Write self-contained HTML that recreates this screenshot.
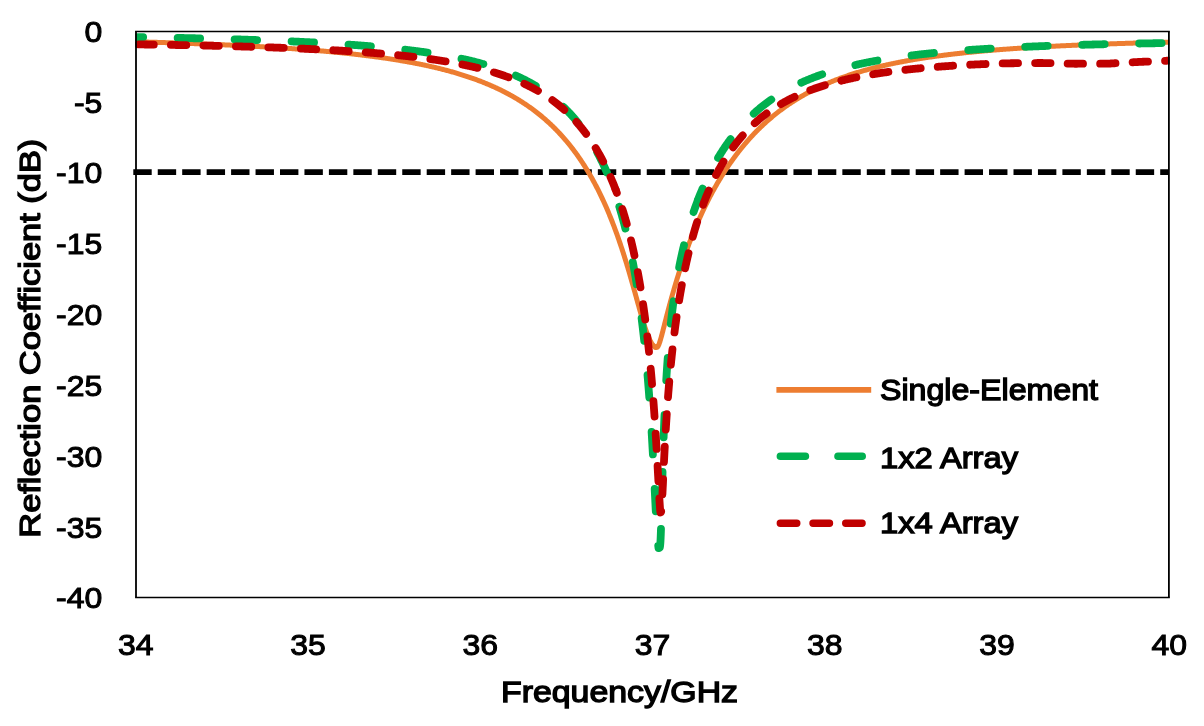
<!DOCTYPE html>
<html><head><meta charset="utf-8"><style>
html,body{margin:0;padding:0;background:#fff;}
body{width:1204px;height:726px;overflow:hidden;}
svg{display:block;will-change:transform;}
text{font-family:'Liberation Sans',sans-serif;font-weight:normal;stroke:#000;stroke-width:1.3px;fill:#000;}
.num text{stroke-width:1.0px;}
</style></head><body>
<svg width="1204" height="726" viewBox="0 0 1204 726">
<defs><clipPath id="pa"><rect x="135.3" y="20" width="1034.5" height="580"/></clipPath></defs>
<rect x="0" y="0" width="1204" height="726" fill="#fff"/>
<g font-size="28.8" class="num">
<text transform="translate(102.3,41.80) scale(1.11,1)" text-anchor="end">0</text>
<text transform="translate(102.3,112.63) scale(1.11,1)" text-anchor="end">-5</text>
<text transform="translate(102.3,183.46) scale(1.11,1)" text-anchor="end">-10</text>
<text transform="translate(102.3,254.29) scale(1.11,1)" text-anchor="end">-15</text>
<text transform="translate(102.3,325.12) scale(1.11,1)" text-anchor="end">-20</text>
<text transform="translate(102.3,395.95) scale(1.11,1)" text-anchor="end">-25</text>
<text transform="translate(102.3,466.78) scale(1.11,1)" text-anchor="end">-30</text>
<text transform="translate(102.3,537.61) scale(1.11,1)" text-anchor="end">-35</text>
<text transform="translate(102.3,608.44) scale(1.11,1)" text-anchor="end">-40</text>
<text transform="translate(135.70,654.90) scale(1.11,1)" text-anchor="middle">34</text>
<text transform="translate(307.95,654.90) scale(1.11,1)" text-anchor="middle">35</text>
<text transform="translate(480.20,654.90) scale(1.11,1)" text-anchor="middle">36</text>
<text transform="translate(652.45,654.90) scale(1.11,1)" text-anchor="middle">37</text>
<text transform="translate(824.70,654.90) scale(1.11,1)" text-anchor="middle">38</text>
<text transform="translate(996.95,654.90) scale(1.11,1)" text-anchor="middle">39</text>
<text transform="translate(1169.20,654.90) scale(1.11,1)" text-anchor="middle">40</text>
</g>
<text x="619.5" y="701.5" font-size="29" text-anchor="middle" textLength="237" lengthAdjust="spacingAndGlyphs">Frequency/GHz</text>
<text transform="translate(40.2,338.2) rotate(-90)" font-size="29" text-anchor="middle" textLength="399" lengthAdjust="spacingAndGlyphs">Reflection Coefficient (dB)</text>
<path d="M133.3,172.1 H1168.5" stroke="#000" stroke-width="5.6" stroke-dasharray="18.4 6.05" fill="none"/>
<g clip-path="url(#pa)" fill="none" stroke-linejoin="round">
<path d="M133.00,41.68 L133.80,41.70 L134.60,41.72 L135.40,41.75 L136.20,41.77 L137.00,41.79 L137.80,41.81 L138.60,41.83 L139.40,41.86 L140.20,41.88 L141.00,41.90 L141.80,41.92 L142.60,41.95 L143.40,41.97 L144.20,41.99 L145.00,42.01 L145.80,42.04 L146.60,42.06 L147.40,42.08 L148.20,42.11 L149.00,42.13 L149.80,42.15 L150.60,42.18 L151.40,42.20 L152.20,42.22 L153.00,42.25 L153.80,42.27 L154.60,42.29 L155.40,42.32 L156.20,42.34 L157.00,42.37 L157.80,42.39 L158.60,42.42 L159.40,42.44 L160.20,42.46 L161.00,42.49 L161.80,42.51 L162.60,42.54 L163.40,42.56 L164.20,42.59 L165.00,42.62 L165.80,42.64 L166.60,42.67 L167.40,42.69 L168.20,42.72 L169.00,42.74 L169.80,42.77 L170.60,42.80 L171.40,42.82 L172.20,42.85 L173.00,42.87 L173.80,42.90 L174.60,42.93 L175.40,42.96 L176.20,42.98 L177.00,43.01 L177.80,43.04 L178.60,43.06 L179.40,43.09 L180.20,43.12 L181.00,43.15 L181.80,43.17 L182.60,43.20 L183.40,43.23 L184.20,43.26 L185.00,43.29 L185.80,43.32 L186.60,43.34 L187.40,43.37 L188.20,43.40 L189.00,43.43 L189.80,43.46 L190.60,43.49 L191.40,43.52 L192.20,43.55 L193.00,43.58 L193.80,43.61 L194.60,43.64 L195.40,43.67 L196.20,43.70 L197.00,43.73 L197.80,43.76 L198.60,43.79 L199.40,43.82 L200.20,43.85 L201.00,43.88 L201.80,43.91 L202.60,43.94 L203.40,43.98 L204.20,44.01 L205.00,44.04 L205.80,44.07 L206.60,44.10 L207.40,44.13 L208.20,44.17 L209.00,44.20 L209.80,44.23 L210.60,44.27 L211.40,44.30 L212.20,44.33 L213.00,44.36 L213.80,44.40 L214.60,44.43 L215.40,44.47 L216.20,44.50 L217.00,44.53 L217.80,44.57 L218.60,44.60 L219.40,44.64 L220.20,44.67 L221.00,44.71 L221.80,44.74 L222.60,44.78 L223.40,44.81 L224.20,44.85 L225.00,44.88 L225.80,44.92 L226.60,44.96 L227.40,44.99 L228.20,45.03 L229.00,45.07 L229.80,45.10 L230.60,45.14 L231.40,45.18 L232.20,45.22 L233.00,45.25 L233.80,45.29 L234.60,45.33 L235.40,45.37 L236.20,45.41 L237.00,45.44 L237.80,45.48 L238.60,45.52 L239.40,45.56 L240.20,45.60 L241.00,45.64 L241.80,45.68 L242.60,45.72 L243.40,45.76 L244.20,45.80 L245.00,45.84 L245.80,45.88 L246.60,45.92 L247.40,45.96 L248.20,46.01 L249.00,46.05 L249.80,46.09 L250.60,46.13 L251.40,46.17 L252.20,46.22 L253.00,46.26 L253.80,46.30 L254.60,46.35 L255.40,46.39 L256.20,46.43 L257.00,46.48 L257.80,46.52 L258.60,46.56 L259.40,46.61 L260.20,46.65 L261.00,46.70 L261.80,46.74 L262.60,46.79 L263.40,46.84 L264.20,46.88 L265.00,46.93 L265.80,46.98 L266.60,47.02 L267.40,47.07 L268.20,47.12 L269.00,47.16 L269.80,47.21 L270.60,47.26 L271.40,47.31 L272.20,47.36 L273.00,47.41 L273.80,47.45 L274.60,47.50 L275.40,47.55 L276.20,47.60 L277.00,47.65 L277.80,47.70 L278.60,47.76 L279.40,47.81 L280.20,47.86 L281.00,47.91 L281.80,47.96 L282.60,48.01 L283.40,48.07 L284.20,48.12 L285.00,48.17 L285.80,48.22 L286.60,48.28 L287.40,48.33 L288.20,48.39 L289.00,48.44 L289.80,48.50 L290.60,48.55 L291.40,48.61 L292.20,48.66 L293.00,48.72 L293.80,48.78 L294.60,48.83 L295.40,48.89 L296.20,48.95 L297.00,49.00 L297.80,49.06 L298.60,49.12 L299.40,49.18 L300.20,49.24 L301.00,49.30 L301.80,49.36 L302.60,49.42 L303.40,49.48 L304.20,49.54 L305.00,49.60 L305.80,49.66 L306.60,49.72 L307.40,49.79 L308.20,49.85 L309.00,49.91 L309.80,49.98 L310.60,50.04 L311.40,50.10 L312.20,50.17 L313.00,50.23 L313.80,50.30 L314.60,50.36 L315.40,50.43 L316.20,50.50 L317.00,50.56 L317.80,50.63 L318.60,50.70 L319.40,50.77 L320.20,50.84 L321.00,50.91 L321.80,50.97 L322.60,51.04 L323.40,51.11 L324.20,51.19 L325.00,51.26 L325.80,51.33 L326.60,51.40 L327.40,51.47 L328.20,51.55 L329.00,51.62 L329.80,51.69 L330.60,51.77 L331.40,51.84 L332.20,51.92 L333.00,51.99 L333.80,52.07 L334.60,52.15 L335.40,52.22 L336.20,52.30 L337.00,52.38 L337.80,52.46 L338.60,52.54 L339.40,52.62 L340.20,52.70 L341.00,52.78 L341.80,52.86 L342.60,52.94 L343.40,53.02 L344.20,53.10 L345.00,53.19 L345.80,53.27 L346.60,53.35 L347.40,53.44 L348.20,53.52 L349.00,53.61 L349.80,53.70 L350.60,53.78 L351.40,53.87 L352.20,53.96 L353.00,54.05 L353.80,54.14 L354.60,54.23 L355.40,54.32 L356.20,54.41 L357.00,54.50 L357.80,54.59 L358.60,54.69 L359.40,54.78 L360.20,54.88 L361.00,54.97 L361.80,55.07 L362.60,55.16 L363.40,55.26 L364.20,55.36 L365.00,55.45 L365.80,55.55 L366.60,55.65 L367.40,55.75 L368.20,55.85 L369.00,55.96 L369.80,56.06 L370.60,56.16 L371.40,56.26 L372.20,56.37 L373.00,56.47 L373.80,56.58 L374.60,56.69 L375.40,56.79 L376.20,56.90 L377.00,57.01 L377.80,57.12 L378.60,57.23 L379.40,57.34 L380.20,57.45 L381.00,57.57 L381.80,57.68 L382.60,57.79 L383.40,57.91 L384.20,58.03 L385.00,58.14 L385.80,58.26 L386.60,58.38 L387.40,58.50 L388.20,58.62 L389.00,58.74 L389.80,58.86 L390.60,58.98 L391.40,59.11 L392.20,59.23 L393.00,59.36 L393.80,59.48 L394.60,59.61 L395.40,59.74 L396.20,59.87 L397.00,60.00 L397.80,60.13 L398.60,60.26 L399.40,60.39 L400.20,60.53 L401.00,60.66 L401.80,60.80 L402.60,60.94 L403.40,61.07 L404.20,61.21 L405.00,61.35 L405.80,61.50 L406.60,61.64 L407.40,61.78 L408.20,61.93 L409.00,62.07 L409.80,62.22 L410.60,62.37 L411.40,62.51 L412.20,62.66 L413.00,62.82 L413.80,62.97 L414.60,63.12 L415.40,63.28 L416.20,63.43 L417.00,63.59 L417.80,63.75 L418.60,63.91 L419.40,64.07 L420.20,64.23 L421.00,64.39 L421.80,64.56 L422.60,64.73 L423.40,64.89 L424.20,65.06 L425.00,65.23 L425.80,65.40 L426.60,65.58 L427.40,65.75 L428.20,65.92 L429.00,66.10 L429.80,66.28 L430.60,66.46 L431.40,66.64 L432.18,66.82 L432.96,67.00 L433.74,67.18 L434.52,67.36 L435.30,67.55 L436.08,67.73 L436.86,67.92 L437.64,68.11 L438.42,68.30 L439.20,68.49 L439.98,68.68 L440.76,68.87 L441.54,69.07 L442.32,69.27 L443.10,69.47 L443.88,69.67 L444.66,69.87 L445.44,70.07 L446.22,70.28 L447.00,70.49 L447.78,70.70 L448.56,70.91 L449.34,71.12 L450.12,71.33 L450.90,71.55 L451.68,71.77 L452.46,71.99 L453.24,72.21 L454.02,72.43 L454.80,72.66 L455.58,72.89 L456.36,73.11 L457.14,73.35 L457.92,73.58 L458.70,73.81 L459.48,74.05 L460.26,74.29 L461.04,74.53 L461.82,74.77 L462.60,75.02 L463.38,75.27 L464.16,75.52 L464.94,75.77 L465.72,76.02 L466.50,76.28 L467.26,76.53 L468.02,76.78 L468.78,77.04 L469.54,77.30 L470.30,77.56 L471.06,77.82 L471.82,78.08 L472.58,78.35 L473.34,78.62 L474.10,78.89 L474.86,79.16 L475.62,79.44 L476.38,79.72 L477.14,80.00 L477.90,80.28 L478.66,80.57 L479.42,80.86 L480.18,81.15 L480.94,81.44 L481.70,81.74 L482.46,82.04 L483.22,82.34 L483.98,82.64 L484.74,82.95 L485.50,83.26 L486.26,83.57 L487.00,83.88 L487.74,84.19 L488.48,84.50 L489.22,84.81 L489.96,85.13 L490.70,85.45 L491.44,85.77 L492.18,86.10 L492.92,86.43 L493.66,86.76 L494.40,87.10 L495.14,87.43 L495.88,87.77 L496.62,88.12 L497.36,88.46 L498.10,88.81 L498.84,89.17 L499.58,89.52 L500.30,89.87 L501.02,90.23 L501.74,90.58 L502.46,90.94 L503.18,91.30 L503.90,91.67 L504.62,92.04 L505.34,92.41 L506.06,92.79 L506.78,93.16 L507.50,93.55 L508.22,93.93 L508.94,94.32 L509.66,94.71 L510.38,95.11 L511.08,95.50 L511.78,95.89 L512.48,96.28 L513.18,96.68 L513.88,97.09 L514.58,97.49 L515.28,97.90 L515.98,98.31 L516.68,98.73 L517.38,99.15 L518.08,99.58 L518.78,100.00 L519.48,100.44 L520.16,100.86 L520.84,101.29 L521.52,101.72 L522.20,102.15 L522.88,102.59 L523.56,103.03 L524.24,103.48 L524.92,103.93 L525.60,104.38 L526.28,104.84 L526.96,105.31 L527.62,105.76 L528.28,106.22 L528.94,106.68 L529.60,107.14 L530.26,107.61 L530.92,108.08 L531.58,108.56 L532.24,109.04 L532.90,109.53 L533.56,110.02 L534.22,110.51 L534.86,111.00 L535.50,111.48 L536.14,111.98 L536.78,112.47 L537.42,112.97 L538.06,113.48 L538.70,113.99 L539.34,114.50 L539.98,115.02 L540.60,115.53 L541.22,116.04 L541.84,116.55 L542.46,117.07 L543.08,117.60 L543.70,118.12 L544.32,118.66 L544.94,119.19 L545.56,119.74 L546.16,120.27 L546.76,120.80 L547.36,121.34 L547.96,121.88 L548.56,122.43 L549.16,122.98 L549.76,123.54 L550.36,124.10 L550.96,124.67 L551.54,125.22 L552.12,125.77 L552.70,126.34 L553.28,126.90 L553.86,127.47 L554.44,128.05 L555.02,128.63 L555.60,129.21 L556.18,129.80 L556.74,130.38 L557.30,130.96 L557.86,131.54 L558.42,132.13 L558.98,132.72 L559.54,133.32 L560.10,133.92 L560.66,134.53 L561.20,135.12 L561.74,135.72 L562.28,136.32 L562.82,136.93 L563.36,137.54 L563.90,138.15 L564.44,138.77 L564.98,139.40 L565.52,140.03 L566.04,140.64 L566.56,141.26 L567.08,141.88 L567.60,142.50 L568.12,143.14 L568.64,143.77 L569.16,144.41 L569.68,145.06 L570.18,145.69 L570.68,146.32 L571.18,146.95 L571.68,147.59 L572.18,148.24 L572.68,148.89 L573.18,149.55 L573.68,150.21 L574.18,150.88 L574.66,151.52 L575.14,152.17 L575.62,152.82 L576.10,153.48 L576.58,154.15 L577.06,154.82 L577.54,155.49 L578.02,156.17 L578.48,156.82 L578.94,157.49 L579.40,158.15 L579.86,158.82 L580.32,159.50 L580.78,160.18 L581.24,160.86 L581.70,161.55 L582.16,162.25 L582.60,162.92 L583.04,163.59 L583.48,164.27 L583.92,164.96 L584.36,165.65 L584.80,166.34 L585.24,167.04 L585.68,167.75 L586.12,168.46 L586.54,169.14 L586.96,169.83 L587.38,170.52 L587.80,171.21 L588.22,171.92 L588.64,172.62 L589.06,173.33 L589.48,174.05 L589.90,174.77 L590.32,175.50 L590.72,176.19 L591.12,176.90 L591.52,177.60 L591.92,178.31 L592.32,179.03 L592.72,179.75 L593.12,180.47 L593.52,181.20 L593.92,181.94 L594.32,182.68 L594.70,183.39 L595.08,184.10 L595.46,184.82 L595.84,185.54 L596.22,186.27 L596.60,187.00 L596.98,187.74 L597.36,188.48 L597.74,189.22 L598.12,189.98 L598.48,190.69 L598.84,191.41 L599.20,192.14 L599.56,192.87 L599.92,193.60 L600.28,194.34 L600.64,195.09 L601.00,195.84 L601.36,196.59 L601.72,197.35 L602.08,198.11 L602.42,198.84 L602.76,199.57 L603.10,200.30 L603.44,201.04 L603.78,201.78 L604.12,202.53 L604.46,203.28 L604.80,204.04 L605.14,204.80 L605.48,205.57 L605.82,206.34 L606.16,207.11 L606.48,207.85 L606.80,208.59 L607.12,209.33 L607.44,210.08 L607.76,210.83 L608.08,211.58 L608.40,212.34 L608.72,213.11 L609.04,213.88 L609.36,214.65 L609.68,215.43 L610.00,216.21 L610.32,217.00 L610.62,217.74 L610.92,218.49 L611.22,219.24 L611.52,219.99 L611.82,220.75 L612.12,221.52 L612.42,222.28 L612.72,223.06 L613.02,223.83 L613.32,224.61 L613.62,225.40 L613.92,226.18 L614.22,226.98 L614.52,227.77 L614.82,228.58 L615.10,229.33 L615.38,230.08 L615.66,230.84 L615.94,231.61 L616.22,232.38 L616.50,233.15 L616.78,233.92 L617.06,234.70 L617.34,235.49 L617.62,236.27 L617.90,237.06 L618.18,237.86 L618.46,238.66 L618.74,239.46 L619.02,240.27 L619.30,241.08 L619.56,241.84 L619.82,242.60 L620.08,243.36 L620.34,244.13 L620.60,244.90 L620.86,245.68 L621.12,246.46 L621.38,247.24 L621.64,248.02 L621.90,248.81 L622.16,249.61 L622.42,250.40 L622.68,251.20 L622.94,252.01 L623.20,252.81 L623.46,253.62 L623.72,254.44 L623.98,255.25 L624.24,256.08 L624.50,256.90 L624.74,257.66 L624.98,258.43 L625.22,259.20 L625.46,259.97 L625.70,260.75 L625.94,261.53 L626.18,262.31 L626.42,263.10 L626.66,263.88 L626.90,264.67 L627.14,265.47 L627.38,266.26 L627.62,267.06 L627.86,267.86 L628.10,268.67 L628.34,269.47 L628.58,270.28 L628.82,271.10 L629.06,271.91 L629.30,272.73 L629.54,273.55 L629.78,274.37 L630.02,275.20 L630.26,276.03 L630.50,276.86 L630.74,277.69 L630.98,278.52 L631.22,279.36 L631.46,280.20 L631.68,280.97 L631.90,281.74 L632.12,282.52 L632.34,283.29 L632.56,284.07 L632.78,284.85 L633.00,285.63 L633.22,286.41 L633.44,287.19 L633.66,287.98 L633.88,288.76 L634.10,289.55 L634.32,290.34 L634.54,291.13 L634.76,291.91 L634.98,292.70 L635.20,293.50 L635.42,294.29 L635.64,295.08 L635.86,295.87 L636.08,296.66 L636.30,297.46 L636.52,298.25 L636.74,299.04 L636.96,299.84 L637.18,300.63 L637.40,301.42 L637.62,302.21 L637.84,303.00 L638.06,303.79 L638.28,304.58 L638.50,305.37 L638.72,306.16 L638.94,306.94 L639.16,307.73 L639.38,308.51 L639.60,309.29 L639.82,310.07 L640.04,310.85 L640.26,311.62 L640.48,312.39 L640.72,313.23 L640.96,314.07 L641.20,314.90 L641.44,315.73 L641.68,316.55 L641.92,317.37 L642.16,318.18 L642.40,318.99 L642.64,319.80 L642.88,320.60 L643.12,321.39 L643.36,322.17 L643.60,322.95 L643.84,323.73 L644.08,324.49 L644.34,325.32 L644.60,326.13 L644.86,326.93 L645.12,327.72 L645.38,328.51 L645.64,329.28 L645.90,330.04 L646.18,330.85 L646.46,331.64 L646.74,332.42 L647.02,333.18 L647.32,333.98 L647.62,334.76 L647.92,335.53 L648.22,336.27 L648.54,337.04 L648.86,337.79 L649.20,338.56 L649.54,339.30 L649.90,340.05 L650.26,340.76 L650.64,341.48 L651.04,342.20 L651.46,342.91 L651.90,343.59 L652.36,344.25 L652.86,344.90 L653.40,345.51 L653.98,346.07 L654.64,346.54 L655.30,347.50 L656.10,347.50 L656.90,347.37 L657.56,346.89 L658.04,346.24 L658.44,345.50 L658.78,344.75 L659.08,344.00 L659.36,343.24 L659.64,342.43 L659.90,341.63 L660.14,340.87 L660.38,340.07 L660.62,339.26 L660.86,338.42 L661.08,337.64 L661.30,336.84 L661.52,336.03 L661.74,335.22 L661.96,334.39 L662.18,333.56 L662.40,332.71 L662.62,331.87 L662.84,331.02 L663.04,330.24 L663.24,329.46 L663.44,328.68 L663.64,327.90 L663.84,327.12 L664.04,326.33 L664.24,325.55 L664.44,324.76 L664.64,323.98 L664.84,323.19 L665.04,322.41 L665.24,321.63 L665.44,320.84 L665.64,320.06 L665.84,319.28 L666.04,318.50 L666.24,317.72 L666.44,316.95 L666.66,316.10 L666.88,315.25 L667.10,314.40 L667.32,313.55 L667.54,312.71 L667.76,311.87 L667.98,311.03 L668.20,310.20 L668.42,309.37 L668.64,308.54 L668.86,307.71 L669.08,306.89 L669.30,306.07 L669.52,305.25 L669.74,304.43 L669.96,303.62 L670.18,302.81 L670.40,302.01 L670.62,301.20 L670.84,300.40 L671.06,299.61 L671.28,298.81 L671.50,298.02 L671.72,297.23 L671.94,296.45 L672.16,295.66 L672.38,294.89 L672.60,294.11 L672.82,293.34 L673.04,292.57 L673.28,291.73 L673.52,290.90 L673.76,290.07 L674.00,289.24 L674.24,288.42 L674.48,287.60 L674.72,286.78 L674.96,285.97 L675.20,285.16 L675.44,284.35 L675.68,283.55 L675.92,282.75 L676.16,281.96 L676.40,281.17 L676.64,280.38 L676.88,279.59 L677.12,278.81 L677.36,278.03 L677.60,277.26 L677.84,276.48 L678.08,275.72 L678.32,274.95 L678.58,274.13 L678.84,273.30 L679.10,272.49 L679.36,271.67 L679.62,270.86 L679.88,270.05 L680.14,269.25 L680.40,268.45 L680.66,267.66 L680.92,266.86 L681.18,266.07 L681.44,265.29 L681.70,264.51 L681.96,263.73 L682.22,262.95 L682.48,262.18 L682.74,261.42 L683.00,260.65 L683.26,259.89 L683.52,259.13 L683.80,258.32 L684.08,257.51 L684.36,256.71 L684.64,255.91 L684.92,255.11 L685.20,254.32 L685.48,253.53 L685.76,252.75 L686.04,251.97 L686.32,251.19 L686.60,250.41 L686.88,249.64 L687.16,248.88 L687.44,248.11 L687.72,247.35 L688.00,246.60 L688.28,245.84 L688.58,245.04 L688.88,244.24 L689.18,243.45 L689.48,242.66 L689.78,241.87 L690.08,241.09 L690.38,240.31 L690.68,239.54 L690.98,238.77 L691.28,238.00 L691.58,237.23 L691.88,236.47 L692.18,235.72 L692.48,234.97 L692.78,234.22 L693.08,233.47 L693.40,232.68 L693.72,231.89 L694.04,231.11 L694.36,230.33 L694.68,229.56 L695.00,228.79 L695.32,228.02 L695.64,227.26 L695.96,226.50 L696.28,225.74 L696.60,224.99 L696.92,224.24 L697.24,223.50 L697.56,222.76 L697.88,222.02 L698.22,221.25 L698.56,220.47 L698.90,219.70 L699.24,218.94 L699.58,218.17 L699.92,217.42 L700.26,216.66 L700.60,215.91 L700.94,215.17 L701.28,214.42 L701.62,213.68 L701.96,212.95 L702.30,212.22 L702.64,211.49 L703.00,210.73 L703.36,209.97 L703.72,209.21 L704.08,208.46 L704.44,207.71 L704.80,206.96 L705.16,206.22 L705.52,205.48 L705.88,204.75 L706.24,204.02 L706.60,203.30 L706.96,202.58 L707.32,201.86 L707.70,201.11 L708.08,200.36 L708.46,199.61 L708.84,198.87 L709.22,198.14 L709.60,197.40 L709.98,196.68 L710.36,195.95 L710.74,195.23 L711.12,194.52 L711.50,193.81 L711.88,193.10 L712.26,192.39 L712.66,191.66 L713.06,190.92 L713.46,190.20 L713.86,189.47 L714.26,188.75 L714.66,188.04 L715.06,187.32 L715.46,186.62 L715.86,185.91 L716.26,185.21 L716.66,184.52 L717.08,183.79 L717.50,183.07 L717.92,182.35 L718.34,181.64 L718.76,180.93 L719.18,180.22 L719.60,179.52 L720.02,178.83 L720.44,178.14 L720.86,177.45 L721.28,176.76 L721.72,176.05 L722.16,175.34 L722.60,174.64 L723.04,173.94 L723.48,173.24 L723.92,172.55 L724.36,171.87 L724.80,171.18 L725.24,170.50 L725.68,169.83 L726.12,169.16 L726.58,168.46 L727.04,167.77 L727.50,167.08 L727.96,166.40 L728.42,165.72 L728.88,165.05 L729.34,164.38 L729.80,163.71 L730.26,163.05 L730.72,162.39 L731.20,161.71 L731.68,161.03 L732.16,160.35 L732.64,159.69 L733.12,159.02 L733.60,158.36 L734.08,157.70 L734.56,157.05 L735.04,156.40 L735.52,155.76 L736.02,155.09 L736.52,154.43 L737.02,153.78 L737.52,153.12 L738.02,152.47 L738.52,151.83 L739.02,151.19 L739.52,150.55 L740.02,149.92 L740.52,149.29 L741.04,148.65 L741.56,148.00 L742.08,147.36 L742.60,146.73 L743.12,146.10 L743.64,145.47 L744.16,144.85 L744.68,144.23 L745.20,143.62 L745.72,143.01 L746.26,142.38 L746.80,141.76 L747.34,141.14 L747.88,140.52 L748.42,139.91 L748.96,139.30 L749.50,138.70 L750.04,138.10 L750.58,137.51 L751.14,136.90 L751.70,136.29 L752.26,135.69 L752.82,135.09 L753.38,134.49 L753.94,133.90 L754.50,133.32 L755.06,132.74 L755.62,132.16 L756.18,131.59 L756.76,131.00 L757.34,130.41 L757.92,129.83 L758.50,129.25 L759.08,128.68 L759.66,128.11 L760.24,127.55 L760.82,126.99 L761.40,126.44 L761.98,125.88 L762.58,125.32 L763.18,124.76 L763.78,124.20 L764.38,123.65 L764.98,123.10 L765.58,122.55 L766.18,122.01 L766.78,121.47 L767.38,120.94 L768.00,120.40 L768.62,119.85 L769.24,119.32 L769.86,118.78 L770.48,118.25 L771.10,117.73 L771.72,117.21 L772.34,116.69 L772.96,116.18 L773.58,115.67 L774.22,115.14 L774.86,114.63 L775.50,114.11 L776.14,113.60 L776.78,113.10 L777.42,112.60 L778.06,112.10 L778.70,111.61 L779.34,111.12 L779.98,110.63 L780.62,110.15 L781.28,109.66 L781.94,109.17 L782.60,108.69 L783.26,108.20 L783.92,107.73 L784.58,107.25 L785.24,106.79 L785.90,106.32 L786.56,105.86 L787.22,105.40 L787.88,104.95 L788.56,104.48 L789.24,104.02 L789.92,103.57 L790.60,103.11 L791.28,102.66 L791.96,102.22 L792.64,101.78 L793.32,101.34 L794.00,100.90 L794.68,100.47 L795.36,100.05 L796.04,99.62 L796.74,99.19 L797.44,98.76 L798.14,98.34 L798.84,97.91 L799.54,97.50 L800.24,97.08 L800.94,96.67 L801.64,96.26 L802.34,95.86 L803.04,95.46 L803.74,95.06 L804.44,94.67 L805.14,94.28 L805.84,93.89 L806.56,93.49 L807.28,93.10 L808.00,92.71 L808.72,92.33 L809.44,91.95 L810.16,91.57 L810.88,91.19 L811.60,90.82 L812.32,90.45 L813.04,90.09 L813.76,89.72 L814.48,89.36 L815.20,89.01 L815.92,88.65 L816.64,88.30 L817.38,87.94 L818.12,87.59 L818.86,87.24 L819.60,86.89 L820.34,86.55 L821.08,86.20 L821.82,85.86 L822.56,85.53 L823.30,85.20 L824.04,84.86 L824.78,84.54 L825.52,84.21 L826.26,83.89 L827.00,83.57 L827.74,83.25 L828.48,82.94 L829.22,82.63 L829.96,82.32 L830.70,82.02 L831.46,81.70 L832.22,81.39 L832.98,81.09 L833.74,80.79 L834.50,80.48 L835.26,80.19 L836.02,79.89 L836.78,79.60 L837.54,79.31 L838.30,79.02 L839.06,78.73 L839.82,78.45 L840.58,78.17 L841.34,77.89 L842.10,77.62 L842.86,77.34 L843.62,77.07 L844.38,76.80 L845.14,76.54 L845.90,76.27 L846.66,76.01 L847.42,75.75 L848.18,75.49 L848.94,75.24 L849.70,74.98 L850.46,74.73 L851.24,74.48 L852.02,74.23 L852.80,73.97 L853.58,73.73 L854.36,73.48 L855.14,73.23 L855.92,72.99 L856.70,72.75 L857.48,72.51 L858.26,72.28 L859.04,72.04 L859.82,71.81 L860.60,71.58 L861.38,71.35 L862.16,71.12 L862.94,70.90 L863.72,70.68 L864.50,70.46 L865.28,70.24 L866.06,70.02 L866.84,69.81 L867.62,69.59 L868.40,69.38 L869.18,69.17 L869.96,68.96 L870.74,68.76 L871.52,68.55 L872.30,68.35 L873.08,68.15 L873.86,67.95 L874.64,67.75 L875.42,67.55 L876.20,67.36 L876.98,67.17 L877.76,66.97 L878.54,66.78 L879.32,66.60 L880.10,66.41 L880.88,66.22 L881.66,66.04 L882.44,65.86 L883.22,65.68 L884.00,65.50 L884.78,65.32 L885.58,65.14 L886.38,64.96 L887.18,64.78 L887.98,64.61 L888.78,64.43 L889.58,64.26 L890.38,64.09 L891.18,63.92 L891.98,63.75 L892.78,63.58 L893.58,63.41 L894.38,63.25 L895.18,63.08 L895.98,62.92 L896.78,62.76 L897.58,62.60 L898.38,62.44 L899.18,62.28 L899.98,62.13 L900.78,61.97 L901.58,61.82 L902.38,61.67 L903.18,61.52 L903.98,61.37 L904.78,61.22 L905.58,61.07 L906.38,60.92 L907.18,60.78 L907.98,60.64 L908.78,60.49 L909.58,60.35 L910.38,60.21 L911.18,60.07 L911.98,59.93 L912.78,59.80 L913.58,59.66 L914.38,59.53 L915.18,59.39 L915.98,59.26 L916.78,59.13 L917.58,59.00 L918.38,58.87 L919.18,58.74 L919.98,58.61 L920.78,58.48 L921.58,58.36 L922.38,58.23 L923.18,58.11 L923.98,57.98 L924.78,57.86 L925.58,57.74 L926.38,57.62 L927.18,57.50 L927.98,57.38 L928.78,57.27 L929.58,57.15 L930.38,57.03 L931.18,56.92 L931.98,56.81 L932.78,56.69 L933.58,56.58 L934.38,56.47 L935.18,56.36 L935.98,56.25 L936.78,56.14 L937.58,56.03 L938.38,55.92 L939.18,55.82 L939.98,55.71 L940.78,55.61 L941.58,55.50 L942.38,55.40 L943.18,55.30 L943.98,55.20 L944.78,55.10 L945.58,54.99 L946.38,54.90 L947.18,54.80 L947.98,54.70 L948.78,54.60 L949.58,54.50 L950.38,54.41 L951.18,54.31 L951.98,54.22 L952.78,54.12 L953.58,54.03 L954.38,53.94 L955.18,53.85 L955.98,53.76 L956.78,53.67 L957.58,53.58 L958.38,53.49 L959.18,53.40 L959.98,53.31 L960.78,53.22 L961.58,53.14 L962.38,53.05 L963.18,52.96 L963.98,52.88 L964.78,52.79 L965.58,52.71 L966.38,52.63 L967.18,52.55 L967.98,52.46 L968.78,52.38 L969.58,52.30 L970.38,52.22 L971.18,52.14 L971.98,52.06 L972.78,51.98 L973.58,51.91 L974.38,51.83 L975.18,51.75 L975.98,51.67 L976.78,51.60 L977.58,51.52 L978.38,51.45 L979.18,51.37 L979.98,51.30 L980.78,51.23 L981.58,51.15 L982.38,51.08 L983.18,51.01 L983.98,50.94 L984.78,50.87 L985.58,50.80 L986.38,50.73 L987.18,50.66 L987.98,50.59 L988.78,50.52 L989.58,50.45 L990.38,50.39 L991.18,50.32 L991.98,50.25 L992.78,50.19 L993.58,50.12 L994.38,50.05 L995.18,49.99 L995.98,49.93 L996.78,49.86 L997.58,49.80 L998.38,49.73 L999.18,49.67 L999.98,49.61 L1000.78,49.55 L1001.58,49.49 L1002.38,49.42 L1003.18,49.36 L1003.98,49.30 L1004.78,49.24 L1005.58,49.18 L1006.38,49.12 L1007.18,49.07 L1007.98,49.01 L1008.78,48.95 L1009.58,48.89 L1010.38,48.83 L1011.18,48.78 L1011.98,48.72 L1012.78,48.67 L1013.58,48.61 L1014.38,48.55 L1015.18,48.50 L1015.98,48.44 L1016.78,48.39 L1017.58,48.34 L1018.38,48.28 L1019.18,48.23 L1019.98,48.18 L1020.78,48.12 L1021.58,48.07 L1022.38,48.02 L1023.18,47.97 L1023.98,47.92 L1024.78,47.86 L1025.58,47.81 L1026.38,47.76 L1027.18,47.71 L1027.98,47.66 L1028.78,47.61 L1029.58,47.56 L1030.38,47.52 L1031.18,47.47 L1031.98,47.42 L1032.78,47.37 L1033.58,47.32 L1034.38,47.28 L1035.18,47.23 L1035.98,47.18 L1036.78,47.14 L1037.58,47.09 L1038.38,47.04 L1039.18,47.00 L1039.98,46.95 L1040.78,46.91 L1041.58,46.86 L1042.38,46.82 L1043.18,46.77 L1043.98,46.73 L1044.78,46.69 L1045.58,46.64 L1046.38,46.60 L1047.18,46.56 L1047.98,46.51 L1048.78,46.47 L1049.58,46.43 L1050.38,46.39 L1051.18,46.35 L1051.98,46.30 L1052.78,46.26 L1053.58,46.22 L1054.38,46.18 L1055.18,46.14 L1055.98,46.10 L1056.78,46.06 L1057.58,46.02 L1058.38,45.98 L1059.18,45.94 L1059.98,45.90 L1060.78,45.87 L1061.58,45.83 L1062.38,45.79 L1063.18,45.75 L1063.98,45.71 L1064.78,45.67 L1065.58,45.64 L1066.38,45.60 L1067.18,45.56 L1067.98,45.53 L1068.78,45.49 L1069.58,45.45 L1070.38,45.42 L1071.18,45.38 L1071.98,45.35 L1072.78,45.31 L1073.58,45.27 L1074.38,45.24 L1075.18,45.20 L1075.98,45.17 L1076.78,45.14 L1077.58,45.10 L1078.38,45.07 L1079.18,45.03 L1079.98,45.00 L1080.78,44.97 L1081.58,44.93 L1082.38,44.90 L1083.18,44.87 L1083.98,44.83 L1084.78,44.80 L1085.58,44.77 L1086.38,44.74 L1087.18,44.70 L1087.98,44.67 L1088.78,44.64 L1089.58,44.61 L1090.38,44.58 L1091.18,44.55 L1091.98,44.52 L1092.78,44.49 L1093.58,44.46 L1094.38,44.42 L1095.18,44.39 L1095.98,44.36 L1096.78,44.33 L1097.58,44.30 L1098.38,44.28 L1099.18,44.25 L1099.98,44.22 L1100.78,44.19 L1101.58,44.16 L1102.38,44.13 L1103.18,44.10 L1103.98,44.07 L1104.78,44.04 L1105.58,44.02 L1106.38,43.99 L1107.18,43.96 L1107.98,43.93 L1108.78,43.91 L1109.58,43.88 L1110.38,43.85 L1111.18,43.82 L1111.98,43.80 L1112.78,43.77 L1113.58,43.74 L1114.38,43.72 L1115.18,43.69 L1115.98,43.66 L1116.78,43.64 L1117.58,43.61 L1118.38,43.59 L1119.18,43.56 L1119.98,43.54 L1120.78,43.51 L1121.58,43.48 L1122.38,43.46 L1123.18,43.43 L1123.98,43.41 L1124.78,43.39 L1125.58,43.36 L1126.38,43.34 L1127.18,43.31 L1127.98,43.29 L1128.78,43.26 L1129.58,43.24 L1130.38,43.22 L1131.18,43.19 L1131.98,43.17 L1132.78,43.15 L1133.58,43.12 L1134.38,43.10 L1135.18,43.08 L1135.98,43.05 L1136.78,43.03 L1137.58,43.01 L1138.38,42.99 L1139.18,42.96 L1139.98,42.94 L1140.78,42.92 L1141.58,42.90 L1142.38,42.87 L1143.18,42.85 L1143.98,42.83 L1144.78,42.81 L1145.58,42.79 L1146.38,42.77 L1147.18,42.75 L1147.98,42.72 L1148.78,42.70 L1149.58,42.68 L1150.38,42.66 L1151.18,42.64 L1151.98,42.62 L1152.78,42.60 L1153.58,42.58 L1154.38,42.56 L1155.18,42.54 L1155.98,42.52 L1156.78,42.50 L1157.58,42.48 L1158.38,42.46 L1159.18,42.44 L1159.98,42.42 L1160.78,42.40 L1161.58,42.38 L1162.38,42.36 L1163.18,42.34 L1163.98,42.32 L1164.78,42.30 L1165.58,42.29 L1166.38,42.27 L1167.18,42.25 L1167.98,42.23 L1168.78,42.21 L1169.50,42.19" stroke="#ED7D31" stroke-width="5.0"/>
<path d="M135.00,37.06 L135.80,37.08 L136.60,37.09 L137.40,37.10 L138.20,37.12 L139.00,37.13 L139.80,37.15 L140.60,37.16 L141.40,37.17 L142.20,37.19 L143.00,37.20 L143.80,37.22 L144.60,37.23 L145.40,37.25 L146.20,37.26 L147.00,37.27 L147.80,37.29 L148.60,37.30 L149.40,37.32 L150.20,37.33 L151.00,37.35 L151.80,37.36 L152.60,37.38 L153.40,37.39 L154.20,37.41 L155.00,37.42 L155.80,37.44 L156.60,37.45 L157.40,37.47 L158.20,37.48 L159.00,37.50 L159.80,37.52 L160.60,37.53 L161.40,37.55 L162.20,37.56 L163.00,37.58 L163.80,37.59 L164.60,37.61 L165.40,37.63 L166.20,37.64 L167.00,37.66 L167.80,37.68 L168.60,37.69 L169.40,37.71 L170.20,37.72 L171.00,37.74 L171.80,37.76 L172.60,37.77 L173.40,37.79 L174.20,37.81 L175.00,37.82 L175.80,37.84 L176.60,37.86 L177.40,37.88 L178.20,37.89 L179.00,37.91 L179.80,37.93 L180.60,37.95 L181.40,37.96 L182.20,37.98 L183.00,38.00 L183.80,38.02 L184.60,38.03 L185.40,38.05 L186.20,38.07 L187.00,38.09 L187.80,38.11 L188.60,38.12 L189.40,38.14 L190.20,38.16 L191.00,38.18 L191.80,38.20 L192.60,38.22 L193.40,38.24 L194.20,38.25 L195.00,38.27 L195.80,38.29 L196.60,38.31 L197.40,38.33 L198.20,38.35 L199.00,38.37 L199.80,38.39 L200.60,38.41 L201.40,38.43 L202.20,38.45 L203.00,38.47 L203.80,38.49 L204.60,38.51 L205.40,38.53 L206.20,38.55 L207.00,38.57 L207.80,38.59 L208.60,38.61 L209.40,38.63 L210.20,38.65 L211.00,38.67 L211.80,38.69 L212.60,38.71 L213.40,38.74 L214.20,38.76 L215.00,38.78 L215.80,38.80 L216.60,38.82 L217.40,38.84 L218.20,38.86 L219.00,38.89 L219.80,38.91 L220.60,38.93 L221.40,38.95 L222.20,38.97 L223.00,39.00 L223.80,39.02 L224.60,39.04 L225.40,39.07 L226.20,39.09 L227.00,39.11 L227.80,39.13 L228.60,39.16 L229.40,39.18 L230.20,39.20 L231.00,39.23 L231.80,39.25 L232.60,39.28 L233.40,39.30 L234.20,39.32 L235.00,39.35 L235.80,39.37 L236.60,39.40 L237.40,39.42 L238.20,39.45 L239.00,39.47 L239.80,39.49 L240.60,39.52 L241.40,39.55 L242.20,39.57 L243.00,39.60 L243.80,39.62 L244.60,39.65 L245.40,39.67 L246.20,39.70 L247.00,39.73 L247.80,39.75 L248.60,39.78 L249.40,39.80 L250.20,39.83 L251.00,39.86 L251.80,39.88 L252.60,39.91 L253.40,39.94 L254.20,39.97 L255.00,39.99 L255.80,40.02 L256.60,40.05 L257.40,40.08 L258.20,40.11 L259.00,40.13 L259.80,40.16 L260.60,40.19 L261.40,40.22 L262.20,40.25 L263.00,40.28 L263.80,40.31 L264.60,40.34 L265.40,40.36 L266.20,40.39 L267.00,40.42 L267.80,40.45 L268.60,40.48 L269.40,40.51 L270.20,40.55 L271.00,40.58 L271.80,40.61 L272.60,40.64 L273.40,40.67 L274.20,40.70 L275.00,40.73 L275.80,40.76 L276.60,40.80 L277.40,40.83 L278.20,40.86 L279.00,40.89 L279.80,40.92 L280.60,40.96 L281.40,40.99 L282.20,41.02 L283.00,41.06 L283.80,41.09 L284.60,41.12 L285.40,41.16 L286.20,41.19 L287.00,41.23 L287.80,41.26 L288.60,41.30 L289.40,41.33 L290.20,41.37 L291.00,41.40 L291.80,41.44 L292.60,41.47 L293.40,41.51 L294.20,41.54 L295.00,41.58 L295.80,41.62 L296.60,41.65 L297.40,41.69 L298.20,41.73 L299.00,41.76 L299.80,41.80 L300.60,41.84 L301.40,41.88 L302.20,41.92 L303.00,41.96 L303.80,41.99 L304.60,42.03 L305.40,42.07 L306.20,42.11 L307.00,42.15 L307.80,42.19 L308.60,42.23 L309.40,42.27 L310.20,42.31 L311.00,42.35 L311.80,42.39 L312.60,42.44 L313.40,42.48 L314.20,42.52 L315.00,42.56 L315.80,42.60 L316.60,42.65 L317.40,42.69 L318.20,42.73 L319.00,42.78 L319.80,42.82 L320.60,42.86 L321.40,42.91 L322.20,42.95 L323.00,43.00 L323.80,43.04 L324.60,43.09 L325.40,43.14 L326.20,43.18 L327.00,43.23 L327.80,43.27 L328.60,43.32 L329.40,43.37 L330.20,43.42 L331.00,43.46 L331.80,43.51 L332.60,43.56 L333.40,43.61 L334.20,43.66 L335.00,43.71 L335.80,43.76 L336.60,43.81 L337.40,43.86 L338.20,43.91 L339.00,43.96 L339.80,44.01 L340.60,44.06 L341.40,44.12 L342.20,44.17 L343.00,44.22 L343.80,44.27 L344.60,44.33 L345.40,44.38 L346.20,44.43 L347.00,44.49 L347.80,44.54 L348.60,44.60 L349.40,44.66 L350.20,44.71 L351.00,44.77 L351.80,44.82 L352.60,44.88 L353.40,44.94 L354.20,45.00 L355.00,45.06 L355.80,45.11 L356.60,45.17 L357.40,45.23 L358.20,45.29 L359.00,45.35 L359.80,45.41 L360.60,45.48 L361.40,45.54 L362.20,45.60 L363.00,45.66 L363.80,45.73 L364.60,45.79 L365.40,45.85 L366.20,45.92 L367.00,45.98 L367.80,46.05 L368.60,46.11 L369.40,46.18 L370.20,46.25 L371.00,46.31 L371.80,46.38 L372.60,46.45 L373.40,46.52 L374.20,46.59 L375.00,46.66 L375.80,46.73 L376.60,46.80 L377.40,46.87 L378.20,46.94 L379.00,47.01 L379.80,47.09 L380.60,47.16 L381.40,47.23 L382.20,47.31 L383.00,47.38 L383.80,47.46 L384.60,47.53 L385.40,47.61 L386.20,47.69 L387.00,47.77 L387.80,47.84 L388.60,47.92 L389.40,48.00 L390.20,48.08 L391.00,48.16 L391.80,48.24 L392.60,48.33 L393.40,48.41 L394.20,48.49 L395.00,48.58 L395.80,48.66 L396.60,48.75 L397.40,48.83 L398.20,48.92 L399.00,49.01 L399.80,49.09 L400.60,49.18 L401.40,49.27 L402.20,49.36 L403.00,49.45 L403.80,49.55 L404.60,49.64 L405.40,49.73 L406.20,49.82 L407.00,49.92 L407.80,50.01 L408.60,50.11 L409.40,50.21 L410.20,50.30 L411.00,50.40 L411.80,50.50 L412.60,50.60 L413.40,50.70 L414.20,50.80 L415.00,50.91 L415.80,51.01 L416.60,51.11 L417.40,51.22 L418.20,51.33 L419.00,51.43 L419.80,51.54 L420.60,51.65 L421.40,51.76 L422.20,51.87 L423.00,51.98 L423.80,52.09 L424.60,52.21 L425.40,52.32 L426.20,52.44 L427.00,52.55 L427.80,52.67 L428.60,52.79 L429.40,52.91 L430.20,53.03 L431.00,53.15 L431.80,53.27 L432.60,53.39 L433.40,53.52 L434.20,53.64 L435.00,53.77 L435.80,53.90 L436.60,54.03 L437.40,54.16 L438.20,54.29 L439.00,54.42 L439.80,54.55 L440.60,54.69 L441.40,54.83 L442.20,54.96 L443.00,55.10 L443.80,55.24 L444.60,55.38 L445.40,55.52 L446.20,55.67 L447.00,55.81 L447.80,55.96 L448.60,56.11 L449.40,56.26 L450.20,56.41 L451.00,56.56 L451.80,56.71 L452.60,56.87 L453.40,57.02 L454.20,57.18 L455.00,57.34 L455.80,57.50 L456.60,57.66 L457.40,57.82 L458.20,57.99 L459.00,58.16 L459.80,58.32 L460.60,58.49 L461.40,58.66 L462.20,58.84 L463.00,59.01 L463.80,59.19 L464.60,59.37 L465.40,59.55 L466.20,59.73 L466.98,59.91 L467.76,60.09 L468.54,60.27 L469.32,60.45 L470.10,60.64 L470.88,60.83 L471.66,61.02 L472.44,61.21 L473.22,61.40 L474.00,61.60 L474.78,61.79 L475.56,61.99 L476.34,62.19 L477.12,62.40 L477.90,62.60 L478.68,62.81 L479.46,63.02 L480.24,63.23 L481.02,63.44 L481.80,63.66 L482.58,63.88 L483.36,64.09 L484.14,64.32 L484.92,64.54 L485.70,64.77 L486.48,65.00 L487.26,65.23 L488.04,65.46 L488.82,65.70 L489.60,65.94 L490.38,66.18 L491.16,66.42 L491.94,66.67 L492.72,66.91 L493.50,67.17 L494.28,67.42 L495.04,67.67 L495.80,67.92 L496.56,68.18 L497.32,68.44 L498.08,68.70 L498.84,68.96 L499.60,69.22 L500.36,69.49 L501.12,69.77 L501.88,70.04 L502.64,70.32 L503.40,70.60 L504.16,70.88 L504.92,71.17 L505.68,71.46 L506.44,71.75 L507.20,72.04 L507.96,72.34 L508.72,72.65 L509.48,72.95 L510.24,73.26 L511.00,73.57 L511.74,73.88 L512.48,74.19 L513.22,74.50 L513.96,74.82 L514.70,75.14 L515.44,75.46 L516.18,75.79 L516.92,76.12 L517.66,76.46 L518.40,76.80 L519.14,77.14 L519.88,77.48 L520.62,77.83 L521.36,78.19 L522.10,78.55 L522.82,78.90 L523.54,79.25 L524.26,79.61 L524.98,79.98 L525.70,80.34 L526.42,80.71 L527.14,81.09 L527.86,81.47 L528.58,81.85 L529.30,82.24 L530.02,82.63 L530.74,83.03 L531.44,83.42 L532.14,83.81 L532.84,84.21 L533.54,84.62 L534.24,85.02 L534.94,85.44 L535.64,85.85 L536.34,86.27 L537.04,86.70 L537.74,87.13 L538.42,87.55 L539.10,87.98 L539.78,88.41 L540.46,88.85 L541.14,89.29 L541.82,89.74 L542.50,90.19 L543.18,90.65 L543.86,91.11 L544.52,91.56 L545.18,92.02 L545.84,92.48 L546.50,92.95 L547.16,93.42 L547.82,93.90 L548.48,94.39 L549.14,94.88 L549.80,95.37 L550.44,95.85 L551.08,96.34 L551.72,96.84 L552.36,97.34 L553.00,97.85 L553.64,98.36 L554.28,98.88 L554.90,99.38 L555.52,99.90 L556.14,100.41 L556.76,100.94 L557.38,101.46 L558.00,102.00 L558.62,102.54 L559.24,103.09 L559.84,103.62 L560.44,104.16 L561.04,104.71 L561.64,105.26 L562.24,105.82 L562.84,106.38 L563.44,106.95 L564.02,107.50 L564.60,108.07 L565.18,108.63 L565.76,109.21 L566.34,109.79 L566.92,110.38 L567.48,110.95 L568.04,111.52 L568.60,112.11 L569.16,112.70 L569.72,113.29 L570.28,113.90 L570.84,114.50 L571.38,115.10 L571.92,115.70 L572.46,116.30 L573.00,116.91 L573.54,117.53 L574.08,118.15 L574.62,118.78 L575.14,119.39 L575.66,120.01 L576.18,120.64 L576.70,121.27 L577.22,121.91 L577.74,122.55 L578.24,123.18 L578.74,123.81 L579.24,124.45 L579.74,125.09 L580.24,125.74 L580.74,126.40 L581.24,127.06 L581.72,127.70 L582.20,128.35 L582.68,129.01 L583.16,129.67 L583.64,130.33 L584.12,131.01 L584.60,131.69 L585.06,132.35 L585.52,133.01 L585.98,133.68 L586.44,134.36 L586.90,135.04 L587.36,135.73 L587.82,136.43 L588.26,137.10 L588.70,137.78 L589.14,138.47 L589.58,139.16 L590.02,139.86 L590.46,140.56 L590.90,141.27 L591.32,141.96 L591.74,142.65 L592.16,143.35 L592.58,144.05 L593.00,144.76 L593.42,145.48 L593.84,146.20 L594.24,146.89 L594.64,147.59 L595.04,148.30 L595.44,149.01 L595.84,149.73 L596.24,150.46 L596.64,151.19 L597.04,151.93 L597.42,152.64 L597.80,153.35 L598.18,154.07 L598.56,154.80 L598.94,155.53 L599.32,156.27 L599.70,157.01 L600.08,157.76 L600.44,158.48 L600.80,159.21 L601.16,159.94 L601.52,160.67 L601.88,161.41 L602.24,162.16 L602.60,162.92 L602.96,163.68 L603.30,164.40 L603.64,165.14 L603.98,165.87 L604.32,166.61 L604.66,167.36 L605.00,168.12 L605.34,168.88 L605.68,169.65 L606.02,170.42 L606.34,171.16 L606.66,171.90 L606.98,172.64 L607.30,173.40 L607.62,174.15 L607.94,174.92 L608.26,175.69 L608.58,176.46 L608.90,177.25 L609.22,178.04 L609.52,178.78 L609.82,179.53 L610.12,180.29 L610.42,181.05 L610.72,181.82 L611.02,182.60 L611.32,183.38 L611.62,184.17 L611.92,184.96 L612.22,185.76 L612.50,186.51 L612.78,187.27 L613.06,188.03 L613.34,188.80 L613.62,189.58 L613.90,190.36" stroke="#00B050" stroke-width="7.8" stroke-linecap="round" stroke-dasharray="22.5 34.5" stroke-dashoffset="14.35"/>
<path d="M613.90,190.36 L614.18,191.14 L614.46,191.94 L614.74,192.74 L615.02,193.54 L615.30,194.35 L615.56,195.11 L615.82,195.88 L616.08,196.65 L616.34,197.42 L616.60,198.21 L616.86,198.99 L617.12,199.79 L617.38,200.59 L617.64,201.39 L617.90,202.20 L618.16,203.02 L618.42,203.84 L618.66,204.61 L618.90,205.38 L619.14,206.16 L619.38,206.94 L619.62,207.73 L619.86,208.52 L620.10,209.32 L620.34,210.12 L620.58,210.94 L620.82,211.75 L621.06,212.57 L621.30,213.40 L621.54,214.24 L621.76,215.01 L621.98,215.79 L622.20,216.57 L622.42,217.36 L622.64,218.15 L622.86,218.95 L623.08,219.75 L623.30,220.56 L623.52,221.37 L623.74,222.19 L623.96,223.02 L624.18,223.85 L624.40,224.69 L624.62,225.54 L624.84,226.39 L625.04,227.17 L625.24,227.95 L625.44,228.74 L625.64,229.54 L625.84,230.34 L626.04,231.14 L626.24,231.95 L626.44,232.77 L626.64,233.59 L626.84,234.42 L627.04,235.26 L627.24,236.09 L627.44,236.94 L627.64,237.79 L627.84,238.65 L628.04,239.51 L628.22,240.30 L628.40,241.08 L628.58,241.88 L628.76,242.68 L628.94,243.48 L629.12,244.29 L629.30,245.10 L629.48,245.92 L629.66,246.75 L629.84,247.58 L630.02,248.41 L630.20,249.26 L630.38,250.10 L630.56,250.96 L630.74,251.82 L630.92,252.68 L631.10,253.55 L631.28,254.43 L631.44,255.22 L631.60,256.01 L631.76,256.80 L631.92,257.60 L632.08,258.41 L632.24,259.22 L632.40,260.04 L632.56,260.86 L632.72,261.68 L632.88,262.52 L633.04,263.35 L633.20,264.20 L633.36,265.05 L633.52,265.90 L633.68,266.76 L633.84,267.63 L634.00,268.50 L634.16,269.37 L634.32,270.26 L634.48,271.15 L634.64,272.04 L634.78,272.83 L634.92,273.63 L635.06,274.43 L635.20,275.23 L635.34,276.04 L635.48,276.85 L635.62,277.67 L635.76,278.49 L635.90,279.32 L636.04,280.16 L636.18,281.00 L636.32,281.84 L636.46,282.69 L636.60,283.55 L636.74,284.41 L636.88,285.28 L637.02,286.15 L637.16,287.03 L637.30,287.92 L637.44,288.81 L637.58,289.70 L637.72,290.61 L637.86,291.52 L638.00,292.43 L638.14,293.35 L638.26,294.15 L638.38,294.95 L638.50,295.75 L638.62,296.56 L638.74,297.37 L638.86,298.19 L638.98,299.02 L639.10,299.85 L639.22,300.68 L639.34,301.52 L639.46,302.36 L639.58,303.21 L639.70,304.07 L639.82,304.93 L639.94,305.80 L640.06,306.67 L640.18,307.54 L640.30,308.43 L640.42,309.32 L640.54,310.21 L640.66,311.11 L640.78,312.02 L640.90,312.93 L641.02,313.85 L641.14,314.77 L641.26,315.70 L641.38,316.64 L641.50,317.58 L641.62,318.53 L641.72,319.32 L641.82,320.12 L641.92,320.93 L642.02,321.74 L642.12,322.55 L642.22,323.37 L642.32,324.20 L642.42,325.03 L642.52,325.86 L642.62,326.70 L642.72,327.54 L642.82,328.39 L642.92,329.25 L643.02,330.11 L643.12,330.97 L643.22,331.84 L643.32,332.72 L643.42,333.60 L643.52,334.48 L643.62,335.37 L643.72,336.27 L643.82,337.17 L643.92,338.08 L644.02,339.00 L644.12,339.92 L644.22,340.84 L644.32,341.77 L644.42,342.71 L644.52,343.66 L644.62,344.61 L644.72,345.56 L644.82,346.53 L644.92,347.50 L645.02,348.47 L645.12,349.45 L645.22,350.44 L645.30,351.24 L645.38,352.04 L645.46,352.84 L645.54,353.65 L645.62,354.47 L645.70,355.28 L645.78,356.11 L645.86,356.93 L645.94,357.77 L646.02,358.60 L646.10,359.44 L646.18,360.29 L646.26,361.14 L646.34,362.00 L646.42,362.86 L646.50,363.72 L646.58,364.60 L646.66,365.47 L646.74,366.35 L646.82,367.24 L646.90,368.13 L646.98,369.03 L647.06,369.93 L647.14,370.84 L647.22,371.75 L647.30,372.67 L647.38,373.59 L647.46,374.52 L647.54,375.46 L647.62,376.40 L647.70,377.34 L647.78,378.30 L647.86,379.25 L647.94,380.22 L648.02,381.19 L648.10,382.16 L648.18,383.15 L648.26,384.14 L648.34,385.13 L648.42,386.13 L648.50,387.14 L648.58,388.15 L648.66,389.17 L648.74,390.20 L648.82,391.24 L648.90,392.28 L648.98,393.32 L649.06,394.38 L649.14,395.44 L649.20,396.24 L649.26,397.05 L649.32,397.85 L649.38,398.67 L649.44,399.48 L649.50,400.30 L649.56,401.13 L649.62,401.96 L649.68,402.79 L649.74,403.63 L649.80,404.47 L649.86,405.32 L649.92,406.17 L649.98,407.02 L650.04,407.88 L650.10,408.74 L650.16,409.61 L650.22,410.48 L650.28,411.36 L650.34,412.24 L650.40,413.13 L650.46,414.02 L650.52,414.91 L650.58,415.81 L650.64,416.72 L650.70,417.63 L650.76,418.54 L650.82,419.46 L650.88,420.38 L650.94,421.31 L651.00,422.24 L651.06,423.18 L651.12,424.13 L651.18,425.07 L651.24,426.03 L651.30,426.98 L651.36,427.95 L651.42,428.91 L651.48,429.89 L651.54,430.86 L651.60,431.85 L651.66,432.84 L651.72,433.83 L651.78,434.83 L651.84,435.83 L651.90,436.84 L651.96,437.85 L652.02,438.87 L652.08,439.90 L652.14,440.93 L652.20,441.96 L652.26,443.00 L652.32,444.05 L652.38,445.10 L652.44,446.16 L652.50,447.22 L652.56,448.28 L652.62,449.36 L652.68,450.43 L652.74,451.51 L652.80,452.60 L652.86,453.70 L652.92,454.79 L652.98,455.90 L653.04,457.00 L653.10,458.12 L653.16,459.24 L653.22,460.36 L653.28,461.49 L653.34,462.62 L653.40,463.76 L653.46,464.90 L653.52,466.05 L653.58,467.20 L653.64,468.36 L653.70,469.52 L653.76,470.69 L653.82,471.86 L653.88,473.03 L653.94,474.21 L654.00,475.39 L654.06,476.58 L654.12,477.77 L654.18,478.96 L654.24,480.16 L654.28,480.96 L654.32,481.76 L654.36,482.56 L654.40,483.37 L654.44,484.17 L654.48,484.98 L654.52,485.78 L654.56,486.59 L654.60,487.40 L654.64,488.21 L654.68,489.02 L654.72,489.83 L654.76,490.64 L654.80,491.45 L654.84,492.27 L654.88,493.08 L654.92,493.89 L654.96,494.70 L655.00,495.52 L655.04,496.33 L655.08,497.14 L655.12,497.96 L655.16,498.77 L655.20,499.58 L655.24,500.39 L655.28,501.20 L655.32,502.01 L655.36,502.82 L655.40,503.63 L655.44,504.43 L655.48,505.24 L655.52,506.04 L655.56,506.84 L655.62,508.04 L655.68,509.23 L655.74,510.42 L655.80,511.60 L655.86,512.77 L655.92,513.94 L655.98,515.10 L656.04,516.25 L656.10,517.39 L656.16,518.52 L656.22,519.64 L656.28,520.75 L656.34,521.85 L656.40,522.94 L656.46,524.01 L656.52,525.06 L656.58,526.10 L656.64,527.13 L656.70,528.13 L656.76,529.12 L656.82,530.09 L656.88,531.05 L656.94,531.98 L657.00,532.89 L657.06,533.77 L657.12,534.64 L657.18,535.48 L657.24,536.30 L657.32,537.35 L657.40,538.35 L657.48,539.31 L657.56,540.22 L657.64,541.07 L657.72,541.87 L657.82,542.80 L657.92,543.63 L658.04,544.51 L658.18,545.32 L658.50,548.00 L659.30,547.99 L659.82,547.37 L660.00,546.54 L660.12,545.66 L660.22,544.69 L660.30,543.75 L660.36,542.93 L660.42,542.01 L660.48,541.00 L660.54,539.89 L660.60,538.69 L660.64,537.83 L660.68,536.93 L660.72,535.99 L660.76,535.00 L660.80,533.98 L660.84,532.92 L660.88,531.82 L660.92,530.69 L660.96,529.52 L661.00,528.31 L661.04,527.08 L661.08,525.82 L661.12,524.53 L661.16,523.21 L661.20,521.87 L661.24,520.50 L661.28,519.12 L661.32,517.71 L661.36,516.29 L661.40,514.85 L661.44,513.40 L661.48,511.93 L661.52,510.46 L661.56,508.97 L661.60,507.47 L661.64,505.97 L661.68,504.46 L661.72,502.95 L661.76,501.44 L661.80,499.92 L661.84,498.40 L661.88,496.88 L661.92,495.36 L661.96,493.85 L662.00,492.33 L662.04,490.82 L662.08,489.31 L662.12,487.81 L662.16,486.32 L662.20,484.83 L662.24,483.34 L662.28,481.86 L662.32,480.39 L662.36,478.93 L662.40,477.48 L662.44,476.03 L662.48,474.59 L662.52,473.17 L662.56,471.75 L662.60,470.34 L662.64,468.94 L662.68,467.55 L662.72,466.17 L662.76,464.80 L662.80,463.44 L662.84,462.09 L662.88,460.75 L662.92,459.43 L662.96,458.11 L663.00,456.80 L663.04,455.51 L663.08,454.22 L663.12,452.95 L663.16,451.68 L663.20,450.43 L663.24,449.19 L663.28,447.96 L663.32,446.73 L663.36,445.52 L663.40,444.32 L663.44,443.13 L663.48,441.95 L663.52,440.78 L663.56,439.62 L663.60,438.47 L663.64,437.33 L663.68,436.20 L663.72,435.08 L663.76,433.97 L663.80,432.87 L663.84,431.78 L663.88,430.70 L663.92,429.63 L663.96,428.56 L664.00,427.51 L664.04,426.46 L664.08,425.43 L664.12,424.40 L664.16,423.38 L664.20,422.37 L664.24,421.37 L664.28,420.38 L664.32,419.40 L664.36,418.42 L664.40,417.45 L664.44,416.50 L664.48,415.54 L664.52,414.60 L664.56,413.67 L664.60,412.74 L664.64,411.82 L664.68,410.91 L664.72,410.00 L664.76,409.10 L664.80,408.21 L664.84,407.33 L664.88,406.45 L664.92,405.58 L664.96,404.72 L665.00,403.87 L665.04,403.02 L665.08,402.18 L665.12,401.34 L665.16,400.51 L665.20,399.69 L665.24,398.88 L665.28,398.07 L665.32,397.26 L665.38,396.07 L665.44,394.89 L665.50,393.72 L665.56,392.57 L665.62,391.43 L665.68,390.30 L665.74,389.18 L665.80,388.08 L665.86,386.99 L665.92,385.91 L665.98,384.84 L666.04,383.78 L666.10,382.74 L666.16,381.70 L666.22,380.68 L666.28,379.66 L666.34,378.66 L666.40,377.67 L666.46,376.68 L666.52,375.71 L666.58,374.74 L666.64,373.79 L666.70,372.84 L666.76,371.91 L666.82,370.98 L666.88,370.06 L666.94,369.15 L667.00,368.25 L667.06,367.35 L667.12,366.47 L667.18,365.59 L667.24,364.72 L667.30,363.86 L667.36,363.01 L667.42,362.16 L667.48,361.32 L667.54,360.49 L667.60,359.67 L667.66,358.85 L667.72,358.04 L667.78,357.24 L667.86,356.18 L667.94,355.13 L668.02,354.09 L668.10,353.07 L668.18,352.05 L668.26,351.05 L668.34,350.06 L668.42,349.08 L668.50,348.10 L668.58,347.14 L668.66,346.19 L668.74,345.25 L668.82,344.31 L668.90,343.39 L668.98,342.48 L669.06,341.57 L669.14,340.67 L669.22,339.78 L669.30,338.90 L669.38,338.03 L669.46,337.17 L669.54,336.31 L669.62,335.47 L669.70,334.63 L669.78,333.79 L669.86,332.97 L669.94,332.15 L670.02,331.34 L670.10,330.54 L670.18,329.74 L670.28,328.75 L670.38,327.78 L670.48,326.81 L670.58,325.86 L670.68,324.91 L670.78,323.97 L670.88,323.05 L670.98,322.13 L671.08,321.22 L671.18,320.32 L671.28,319.43 L671.38,318.55 L671.48,317.68 L671.58,316.81 L671.68,315.95 L671.78,315.10 L671.88,314.26 L671.98,313.42 L672.08,312.60 L672.18,311.78 L672.28,310.97 L672.38,310.16 L672.48,309.36 L672.60,308.41 L672.72,307.47 L672.84,306.54 L672.96,305.62 L673.08,304.71 L673.20,303.81 L673.32,302.91 L673.44,302.02 L673.56,301.15 L673.68,300.28 L673.80,299.42 L673.92,298.56 L674.04,297.72 L674.16,296.88 L674.28,296.05 L674.40,295.22 L674.52,294.41 L674.64,293.60 L674.76,292.79 L674.88,292.00 L675.02,291.08 L675.16,290.17 L675.30,289.26 L675.44,288.37 L675.58,287.48 L675.72,286.61 L675.86,285.74 L676.00,284.88 L676.14,284.02 L676.28,283.18 L676.42,282.34 L676.56,281.51 L676.70,280.68 L676.84,279.86 L676.98,279.05 L677.12,278.25 L677.26,277.45 L677.40,276.66 L677.56,275.77 L677.72,274.88 L677.88,274.00 L678.04,273.13 L678.20,272.27 L678.36,271.41 L678.52,270.56 L678.68,269.72 L678.84,268.89 L679.00,268.06 L679.16,267.24 L679.32,266.43 L679.48,265.62 L679.64,264.82 L679.80,264.03 L679.96,263.24 L680.14,262.36 L680.32,261.49 L680.50,260.63 L680.68,259.78 L680.86,258.93 L681.04,258.09 L681.22,257.25 L681.40,256.43 L681.58,255.61 L681.76,254.80 L681.94,253.99 L682.12,253.19 L682.30,252.40 L682.48,251.61 L682.66,250.83 L682.86,249.97 L683.06,249.11 L683.26,248.27 L683.46,247.43 L683.66,246.60 L683.86,245.77 L684.06,244.95 L684.26,244.14 L684.46,243.34 L684.66,242.54 L684.86,241.74 L685.06,240.96 L685.26,240.18 L685.46,239.40 L685.68,238.56 L685.90,237.72 L686.12,236.89 L686.34,236.06 L686.56,235.24 L686.78,234.43 L687.00,233.63 L687.22,232.83 L687.44,232.04 L687.66,231.25 L687.88,230.47 L688.10,229.70 L688.34,228.86 L688.58,228.03 L688.82,227.20 L689.06,226.38 L689.30,225.57 L689.54,224.77 L689.78,223.97 L690.02,223.18 L690.26,222.39 L690.50,221.61 L690.74,220.83 L690.98,220.07 L691.24,219.24 L691.50,218.42 L691.76,217.61 L692.02,216.80 L692.28,216.00 L692.54,215.20 L692.80,214.42 L693.06,213.63 L693.32,212.86 L693.58,212.09 L693.84,211.32 L694.10,210.57 L694.38,209.75 L694.66,208.95 L694.94,208.15 L695.22,207.36 L695.50,206.58 L695.78,205.80 L696.06,205.02 L696.34,204.25 L696.62,203.49 L696.90,202.74 L697.18,201.99 L697.48,201.19 L697.78,200.40 L698.08,199.61" stroke="#00B050" stroke-width="7.8" stroke-linecap="round" stroke-dasharray="22.5 34.5" stroke-dashoffset="39.73"/>
<path d="M698.08,199.61 L698.38,198.83 L698.68,198.06 L698.98,197.29 L699.28,196.53 L699.58,195.77 L699.88,195.02 L700.18,194.28 L700.50,193.49 L700.82,192.71 L701.14,191.93 L701.46,191.16 L701.78,190.40 L702.10,189.64 L702.42,188.88 L702.74,188.14 L703.06,187.40 L703.38,186.66 L703.72,185.89 L704.06,185.12 L704.40,184.35 L704.74,183.60 L705.08,182.84 L705.42,182.10 L705.76,181.36 L706.10,180.62 L706.44,179.90 L706.80,179.13 L707.16,178.37 L707.52,177.62 L707.88,176.87 L708.24,176.13 L708.60,175.39 L708.96,174.66 L709.32,173.94 L709.68,173.22 L710.06,172.47 L710.44,171.72 L710.82,170.98 L711.20,170.24 L711.58,169.51 L711.96,168.79 L712.34,168.07 L712.72,167.36 L713.10,166.65 L713.50,165.91 L713.90,165.18 L714.30,164.46 L714.70,163.74 L715.10,163.02 L715.50,162.31 L715.90,161.61 L716.30,160.91 L716.72,160.18 L717.14,159.46 L717.56,158.75 L717.98,158.04 L718.40,157.33 L718.82,156.64 L719.24,155.94 L719.66,155.26 L720.08,154.58 L720.52,153.87 L720.96,153.17 L721.40,152.47 L721.84,151.78 L722.28,151.10 L722.72,150.42 L723.16,149.74 L723.62,149.05 L724.08,148.35 L724.54,147.67 L725.00,146.99 L725.46,146.31 L725.92,145.64 L726.38,144.98 L726.84,144.32 L727.32,143.64 L727.80,142.96 L728.28,142.29 L728.76,141.63 L729.24,140.97 L729.72,140.32 L730.20,139.67 L730.68,139.03 L731.18,138.37 L731.68,137.71 L732.18,137.06 L732.68,136.41 L733.18,135.77 L733.68,135.14 L734.18,134.51 L734.70,133.86 L735.22,133.22 L735.74,132.58 L736.26,131.95 L736.78,131.32 L737.30,130.70 L737.82,130.09 L738.34,129.48 L738.88,128.85 L739.42,128.23 L739.96,127.61 L740.50,127.00 L741.04,126.39 L741.58,125.79 L742.12,125.20 L742.68,124.59 L743.24,123.98 L743.80,123.38 L744.36,122.79 L744.92,122.20 L745.48,121.62 L746.04,121.04 L746.60,120.47 L747.18,119.88 L747.76,119.29 L748.34,118.72 L748.92,118.15 L749.50,117.58 L750.08,117.02 L750.66,116.46 L751.24,115.91 L751.84,115.34 L752.44,114.79 L753.04,114.23 L753.64,113.68 L754.24,113.14 L754.84,112.60 L755.44,112.07 L756.06,111.52 L756.68,110.98 L757.30,110.44 L757.92,109.91 L758.54,109.39 L759.16,108.87 L759.78,108.35 L760.40,107.84 L761.02,107.33 L761.66,106.82 L762.30,106.30 L762.94,105.80 L763.58,105.29 L764.22,104.80 L764.86,104.30 L765.50,103.82 L766.14,103.33 L766.80,102.84 L767.46,102.35 L768.12,101.87 L768.78,101.39 L769.44,100.91 L770.10,100.44 L770.76,99.98 L771.42,99.52 L772.08,99.06 L772.76,98.60 L773.44,98.14 L774.12,97.68 L774.80,97.23 L775.48,96.78 L776.16,96.34 L776.84,95.90 L777.52,95.47 L778.20,95.04 L778.88,94.61 L779.58,94.18 L780.28,93.75 L780.98,93.32 L781.68,92.90 L782.38,92.49 L783.08,92.07 L783.78,91.67 L784.48,91.26 L785.18,90.86 L785.88,90.47 L786.58,90.07 L787.28,89.68 L788.00,89.29 L788.72,88.90 L789.44,88.51 L790.16,88.13 L790.88,87.75 L791.60,87.37 L792.32,87.00 L793.04,86.63 L793.76,86.27 L794.48,85.90 L795.20,85.55 L795.92,85.19 L796.64,84.84 L797.38,84.49 L798.12,84.13 L798.86,83.78 L799.60,83.44 L800.34,83.09 L801.08,82.76 L801.82,82.42 L802.56,82.09 L803.30,81.76 L804.04,81.43 L804.78,81.11 L805.52,80.79 L806.26,80.48 L807.00,80.16 L807.74,79.85 L808.48,79.55 L809.24,79.23 L810.00,78.92 L810.76,78.62 L811.52,78.32 L812.28,78.02 L813.04,77.72 L813.80,77.43 L814.56,77.14 L815.32,76.85 L816.08,76.56 L816.84,76.28 L817.60,76.00 L818.36,75.72 L819.12,75.45 L819.88,75.18 L820.64,74.91 L821.40,74.64 L822.16,74.38 L822.92,74.12 L823.68,73.86 L824.44,73.61 L825.20,73.35 L825.96,73.10 L826.74,72.85 L827.52,72.59 L828.30,72.34 L829.08,72.10 L829.86,71.85 L830.64,71.61 L831.42,71.37 L832.20,71.13 L832.98,70.89 L833.76,70.66 L834.54,70.43 L835.32,70.20 L836.10,69.97 L836.88,69.75 L837.66,69.53 L838.44,69.31 L839.22,69.09 L840.00,68.87 L840.78,68.66 L841.56,68.45 L842.34,68.24 L843.12,68.03 L843.90,67.82 L844.68,67.62 L845.46,67.42 L846.24,67.22 L847.02,67.02 L847.80,66.82 L848.58,66.63 L849.36,66.43 L850.14,66.24 L850.92,66.05 L851.70,65.86 L852.48,65.68 L853.26,65.49 L854.04,65.31 L854.82,65.13 L855.60,64.95 L856.40,64.77 L857.20,64.59 L858.00,64.41 L858.80,64.23 L859.60,64.06 L860.40,63.88 L861.20,63.71 L862.00,63.54 L862.80,63.37 L863.60,63.21 L864.40,63.04 L865.20,62.88 L866.00,62.71 L866.80,62.55 L867.60,62.39 L868.40,62.23 L869.20,62.08 L870.00,61.92 L870.80,61.77 L871.60,61.61 L872.40,61.46 L873.20,61.31 L874.00,61.16 L874.80,61.01 L875.60,60.87 L876.40,60.72 L877.20,60.58 L878.00,60.44 L878.80,60.30 L879.60,60.16 L880.40,60.02 L881.20,59.88 L882.00,59.74 L882.80,59.61 L883.60,59.48 L884.40,59.34 L885.20,59.21 L886.00,59.08 L886.80,58.95 L887.60,58.82 L888.40,58.70 L889.20,58.57 L890.00,58.45 L890.80,58.32 L891.60,58.20 L892.40,58.08 L893.20,57.96 L894.00,57.84 L894.80,57.72 L895.60,57.60 L896.40,57.49 L897.20,57.37 L898.00,57.26 L898.80,57.14 L899.60,57.03 L900.40,56.92 L901.20,56.81 L902.00,56.70 L902.80,56.59 L903.60,56.48 L904.40,56.37 L905.20,56.27 L906.00,56.16 L906.80,56.06 L907.60,55.95 L908.40,55.85 L909.20,55.75 L910.00,55.65 L910.80,55.55 L911.60,55.45 L912.40,55.35 L913.20,55.25 L914.00,55.15 L914.80,55.06 L915.60,54.96 L916.40,54.87 L917.20,54.77 L918.00,54.68 L918.80,54.59 L919.60,54.49 L920.40,54.40 L921.20,54.31 L922.00,54.22 L922.80,54.13 L923.60,54.04 L924.40,53.96 L925.20,53.87 L926.00,53.78 L926.80,53.70 L927.60,53.61 L928.40,53.53 L929.20,53.45 L930.00,53.36 L930.80,53.28 L931.60,53.20 L932.40,53.12 L933.20,53.04 L934.00,52.96 L934.80,52.88 L935.60,52.80 L936.40,52.72 L937.20,52.65 L938.00,52.57 L938.80,52.49 L939.60,52.42 L940.40,52.34 L941.20,52.27 L942.00,52.19 L942.80,52.12 L943.60,52.05 L944.40,51.98 L945.20,51.90 L946.00,51.83 L946.80,51.76 L947.60,51.69 L948.40,51.62 L949.20,51.55 L950.00,51.49 L950.80,51.42 L951.60,51.35 L952.40,51.28 L953.20,51.22 L954.00,51.15 L954.80,51.09 L955.60,51.02 L956.40,50.96 L957.20,50.89 L958.00,50.83 L958.80,50.77 L959.60,50.70 L960.40,50.64 L961.20,50.58 L962.00,50.52 L962.80,50.46 L963.60,50.40 L964.40,50.34 L965.20,50.28 L966.00,50.22 L966.80,50.16 L967.60,50.10 L968.40,50.04 L969.20,49.99 L970.00,49.93 L970.80,49.87 L971.60,49.82 L972.40,49.76 L973.20,49.71 L974.00,49.65 L974.80,49.60 L975.60,49.54 L976.40,49.49 L977.20,49.43 L978.00,49.38 L978.80,49.33 L979.60,49.28 L980.40,49.22 L981.20,49.17 L982.00,49.12 L982.80,49.07 L983.60,49.02 L984.40,48.97 L985.20,48.92 L986.00,48.87 L986.80,48.82 L987.60,48.77 L988.40,48.72 L989.20,48.68 L990.00,48.63 L990.80,48.58 L991.60,48.53 L992.40,48.49 L993.20,48.44 L994.00,48.39 L994.80,48.35 L995.60,48.30 L996.40,48.26 L997.20,48.21 L998.00,48.17 L998.80,48.12 L999.60,48.08 L1000.40,48.04 L1001.20,47.99 L1002.00,47.95 L1002.80,47.91 L1003.60,47.86 L1004.40,47.82 L1005.20,47.78 L1006.00,47.74 L1006.80,47.70 L1007.60,47.66 L1008.40,47.61 L1009.20,47.57 L1010.00,47.53 L1010.80,47.49 L1011.60,47.45 L1012.40,47.41 L1013.20,47.38 L1014.00,47.34 L1014.80,47.30 L1015.60,47.26 L1016.40,47.22 L1017.20,47.18 L1018.00,47.15 L1018.80,47.11 L1019.60,47.07 L1020.40,47.03 L1021.20,47.00 L1022.00,46.96 L1022.80,46.92 L1023.60,46.89 L1024.40,46.85 L1025.20,46.82 L1026.00,46.78 L1026.80,46.75 L1027.60,46.71 L1028.40,46.68 L1029.20,46.64 L1030.00,46.61 L1030.80,46.57 L1031.60,46.54 L1032.40,46.51 L1033.20,46.47 L1034.00,46.44 L1034.80,46.41 L1035.60,46.38 L1036.40,46.34 L1037.20,46.31 L1038.00,46.28 L1038.80,46.25 L1039.60,46.22 L1040.40,46.18 L1041.20,46.15 L1042.00,46.12 L1042.80,46.09 L1043.60,46.06 L1044.40,46.03 L1045.20,46.00 L1046.00,45.97 L1046.80,45.94 L1047.60,45.91 L1048.40,45.88 L1049.20,45.85 L1050.00,45.82 L1050.80,45.79 L1051.60,45.76 L1052.40,45.74 L1053.20,45.71 L1054.00,45.68 L1054.80,45.65 L1055.60,45.62 L1056.40,45.60 L1057.20,45.57 L1058.00,45.54 L1058.80,45.51 L1059.60,45.49 L1060.40,45.46 L1061.20,45.43 L1062.00,45.41 L1062.80,45.38 L1063.60,45.36 L1064.40,45.33 L1065.20,45.30 L1066.00,45.28 L1066.80,45.25 L1067.60,45.23 L1068.40,45.20 L1069.20,45.18 L1070.00,45.15 L1070.80,45.13 L1071.60,45.10 L1072.40,45.08 L1073.20,45.06 L1074.00,45.03 L1074.80,45.01 L1075.60,44.98 L1076.40,44.96 L1077.20,44.94 L1078.00,44.91 L1078.80,44.89 L1079.60,44.87 L1080.40,44.84 L1081.20,44.82 L1082.00,44.80 L1082.80,44.78 L1083.60,44.75 L1084.40,44.73 L1085.20,44.71 L1086.00,44.69 L1086.80,44.67 L1087.60,44.64 L1088.40,44.62 L1089.20,44.60 L1090.00,44.58 L1090.80,44.56 L1091.60,44.54 L1092.40,44.52 L1093.20,44.50 L1094.00,44.48 L1094.80,44.46 L1095.60,44.44 L1096.40,44.42 L1097.20,44.40 L1098.00,44.38 L1098.80,44.36 L1099.60,44.34 L1100.40,44.32 L1101.20,44.30 L1102.00,44.28 L1102.80,44.26 L1103.60,44.24 L1104.40,44.22 L1105.20,44.20 L1106.00,44.18 L1106.80,44.16 L1107.60,44.15 L1108.40,44.13 L1109.20,44.11 L1110.00,44.09 L1110.80,44.07 L1111.60,44.06 L1112.40,44.04 L1113.20,44.02 L1114.00,44.00 L1114.80,43.98 L1115.60,43.97 L1116.40,43.95 L1117.20,43.93 L1118.00,43.92 L1118.80,43.90 L1119.60,43.88 L1120.40,43.87 L1121.20,43.85 L1122.00,43.83 L1122.80,43.82 L1123.60,43.80 L1124.40,43.78 L1125.20,43.77 L1126.00,43.75 L1126.80,43.74 L1127.60,43.72 L1128.40,43.70 L1129.20,43.69 L1130.00,43.67 L1130.80,43.66 L1131.60,43.64 L1132.40,43.63 L1133.20,43.61 L1134.00,43.60 L1134.80,43.58 L1135.60,43.57 L1136.40,43.55 L1137.20,43.54 L1138.00,43.52 L1138.80,43.51 L1139.60,43.49 L1140.40,43.48 L1141.20,43.47 L1142.00,43.45 L1142.80,43.44 L1143.60,43.42 L1144.40,43.41 L1145.20,43.40 L1146.00,43.38 L1146.80,43.37 L1147.60,43.36 L1148.40,43.34 L1149.20,43.33 L1150.00,43.32 L1150.80,43.30 L1151.60,43.29 L1152.40,43.28 L1153.20,43.26 L1154.00,43.25 L1154.80,43.24 L1155.60,43.22 L1156.40,43.21 L1157.20,43.20 L1158.00,43.19 L1158.80,43.17 L1159.60,43.16 L1160.40,43.15 L1161.20,43.14 L1162.00,43.13 L1162.80,43.11 L1163.60,43.10 L1164.40,43.09 L1165.20,43.08 L1166.00,43.07 L1166.80,43.06 L1167.60,43.04 L1168.40,43.03 L1169.20,43.02 L1169.50,43.02" stroke="#00B050" stroke-width="7.8" stroke-linecap="round" stroke-dasharray="22.5 34.5" stroke-dashoffset="10.64"/>
<path d="M135.00,44.35 L135.80,44.36 L136.60,44.37 L137.40,44.38 L138.20,44.39 L139.00,44.41 L139.80,44.42 L140.60,44.43 L141.40,44.44 L142.20,44.45 L143.00,44.46 L143.80,44.47 L144.60,44.48 L145.40,44.50 L146.20,44.51 L147.00,44.52 L147.80,44.53 L148.60,44.54 L149.40,44.56 L150.20,44.57 L151.00,44.58 L151.80,44.59 L152.60,44.60 L153.40,44.62 L154.20,44.63 L155.00,44.64 L155.80,44.65 L156.60,44.67 L157.40,44.68 L158.20,44.69 L159.00,44.70 L159.80,44.72 L160.60,44.73 L161.40,44.74 L162.20,44.76 L163.00,44.77 L163.80,44.78 L164.60,44.80 L165.40,44.81 L166.20,44.82 L167.00,44.84 L167.80,44.85 L168.60,44.86 L169.40,44.88 L170.20,44.89 L171.00,44.90 L171.80,44.92 L172.60,44.93 L173.40,44.95 L174.20,44.96 L175.00,44.97 L175.80,44.99 L176.60,45.00 L177.40,45.02 L178.20,45.03 L179.00,45.05 L179.80,45.06 L180.60,45.08 L181.40,45.09 L182.20,45.11 L183.00,45.12 L183.80,45.14 L184.60,45.15 L185.40,45.17 L186.20,45.18 L187.00,45.20 L187.80,45.21 L188.60,45.23 L189.40,45.25 L190.20,45.26 L191.00,45.28 L191.80,45.29 L192.60,45.31 L193.40,45.33 L194.20,45.34 L195.00,45.36 L195.80,45.37 L196.60,45.39 L197.40,45.41 L198.20,45.42 L199.00,45.44 L199.80,45.46 L200.60,45.47 L201.40,45.49 L202.20,45.51 L203.00,45.53 L203.80,45.54 L204.60,45.56 L205.40,45.58 L206.20,45.60 L207.00,45.61 L207.80,45.63 L208.60,45.65 L209.40,45.67 L210.20,45.69 L211.00,45.70 L211.80,45.72 L212.60,45.74 L213.40,45.76 L214.20,45.78 L215.00,45.80 L215.80,45.82 L216.60,45.84 L217.40,45.85 L218.20,45.87 L219.00,45.89 L219.80,45.91 L220.60,45.93 L221.40,45.95 L222.20,45.97 L223.00,45.99 L223.80,46.01 L224.60,46.03 L225.40,46.05 L226.20,46.07 L227.00,46.09 L227.80,46.11 L228.60,46.13 L229.40,46.15 L230.20,46.17 L231.00,46.20 L231.80,46.22 L232.60,46.24 L233.40,46.26 L234.20,46.28 L235.00,46.30 L235.80,46.32 L236.60,46.35 L237.40,46.37 L238.20,46.39 L239.00,46.41 L239.80,46.43 L240.60,46.46 L241.40,46.48 L242.20,46.50 L243.00,46.53 L243.80,46.55 L244.60,46.57 L245.40,46.59 L246.20,46.62 L247.00,46.64 L247.80,46.66 L248.60,46.69 L249.40,46.71 L250.20,46.74 L251.00,46.76 L251.80,46.79 L252.60,46.81 L253.40,46.83 L254.20,46.86 L255.00,46.88 L255.80,46.91 L256.60,46.93 L257.40,46.96 L258.20,46.99 L259.00,47.01 L259.80,47.04 L260.60,47.06 L261.40,47.09 L262.20,47.12 L263.00,47.14 L263.80,47.17 L264.60,47.19 L265.40,47.22 L266.20,47.25 L267.00,47.28 L267.80,47.30 L268.60,47.33 L269.40,47.36 L270.20,47.39 L271.00,47.41 L271.80,47.44 L272.60,47.47 L273.40,47.50 L274.20,47.53 L275.00,47.56 L275.80,47.59 L276.60,47.62 L277.40,47.64 L278.20,47.67 L279.00,47.70 L279.80,47.73 L280.60,47.76 L281.40,47.79 L282.20,47.82 L283.00,47.86 L283.80,47.89 L284.60,47.92 L285.40,47.95 L286.20,47.98 L287.00,48.01 L287.80,48.04 L288.60,48.07 L289.40,48.11 L290.20,48.14 L291.00,48.17 L291.80,48.20 L292.60,48.24 L293.40,48.27 L294.20,48.30 L295.00,48.34 L295.80,48.37 L296.60,48.41 L297.40,48.44 L298.20,48.47 L299.00,48.51 L299.80,48.54 L300.60,48.58 L301.40,48.61 L302.20,48.65 L303.00,48.69 L303.80,48.72 L304.60,48.76 L305.40,48.79 L306.20,48.83 L307.00,48.87 L307.80,48.90 L308.60,48.94 L309.40,48.98 L310.20,49.02 L311.00,49.05 L311.80,49.09 L312.60,49.13 L313.40,49.17 L314.20,49.21 L315.00,49.25 L315.80,49.29 L316.60,49.33 L317.40,49.37 L318.20,49.41 L319.00,49.45 L319.80,49.49 L320.60,49.53 L321.40,49.57 L322.20,49.61 L323.00,49.66 L323.80,49.70 L324.60,49.74 L325.40,49.78 L326.20,49.83 L327.00,49.87 L327.80,49.91 L328.60,49.96 L329.40,50.00 L330.20,50.04 L331.00,50.09 L331.80,50.13 L332.60,50.18 L333.40,50.22 L334.20,50.27 L335.00,50.32 L335.80,50.36 L336.60,50.41 L337.40,50.46 L338.20,50.50 L339.00,50.55 L339.80,50.60 L340.60,50.65 L341.40,50.70 L342.20,50.75 L343.00,50.80 L343.80,50.85 L344.60,50.90 L345.40,50.95 L346.20,51.00 L347.00,51.05 L347.80,51.10 L348.60,51.15 L349.40,51.20 L350.20,51.26 L351.00,51.31 L351.80,51.36 L352.60,51.42 L353.40,51.47 L354.20,51.52 L355.00,51.58 L355.80,51.63 L356.60,51.69 L357.40,51.74 L358.20,51.80 L359.00,51.86 L359.80,51.91 L360.60,51.97 L361.40,52.03 L362.20,52.09 L363.00,52.15 L363.80,52.21 L364.60,52.27 L365.40,52.33 L366.20,52.39 L367.00,52.45 L367.80,52.51 L368.60,52.57 L369.40,52.63 L370.20,52.69 L371.00,52.76 L371.80,52.82 L372.60,52.89 L373.40,52.95 L374.20,53.01 L375.00,53.08 L375.80,53.15 L376.60,53.21 L377.40,53.28 L378.20,53.35 L379.00,53.41 L379.80,53.48 L380.60,53.55 L381.40,53.62 L382.20,53.69 L383.00,53.76 L383.80,53.83 L384.60,53.90 L385.40,53.98 L386.20,54.05 L387.00,54.12 L387.80,54.19 L388.60,54.27 L389.40,54.34 L390.20,54.42 L391.00,54.49 L391.80,54.57 L392.60,54.65 L393.40,54.73 L394.20,54.80 L395.00,54.88 L395.80,54.96 L396.60,55.04 L397.40,55.12 L398.20,55.20 L399.00,55.29 L399.80,55.37 L400.60,55.45 L401.40,55.54 L402.20,55.62 L403.00,55.71 L403.80,55.79 L404.60,55.88 L405.40,55.97 L406.20,56.05 L407.00,56.14 L407.80,56.23 L408.60,56.32 L409.40,56.41 L410.20,56.50 L411.00,56.60 L411.80,56.69 L412.60,56.78 L413.40,56.88 L414.20,56.97 L415.00,57.07 L415.80,57.17 L416.60,57.26 L417.40,57.36 L418.20,57.46 L419.00,57.56 L419.80,57.66 L420.60,57.77 L421.40,57.87 L422.20,57.97 L423.00,58.08 L423.80,58.18 L424.60,58.29 L425.40,58.39 L426.20,58.50 L427.00,58.61 L427.80,58.72 L428.60,58.83 L429.40,58.94 L430.20,59.06 L431.00,59.17 L431.80,59.29 L432.60,59.40 L433.40,59.52 L434.20,59.63 L435.00,59.75 L435.80,59.87 L436.60,59.99 L437.40,60.12 L438.20,60.24 L439.00,60.36 L439.80,60.49 L440.60,60.61 L441.40,60.74 L442.20,60.87 L443.00,61.00 L443.80,61.13 L444.60,61.26 L445.40,61.40 L446.20,61.53 L447.00,61.67 L447.80,61.80 L448.60,61.94 L449.40,62.08 L450.20,62.22 L451.00,62.36 L451.80,62.50 L452.60,62.65 L453.40,62.80 L454.20,62.94 L455.00,63.09 L455.80,63.24 L456.60,63.39 L457.40,63.54 L458.20,63.70 L459.00,63.85 L459.80,64.01 L460.60,64.17 L461.40,64.33 L462.20,64.49 L463.00,64.66 L463.80,64.82 L464.60,64.99 L465.40,65.15 L466.20,65.32 L467.00,65.50 L467.80,65.67 L468.60,65.84 L469.40,66.02 L470.20,66.20 L471.00,66.38 L471.80,66.56 L472.58,66.74 L473.36,66.92 L474.14,67.10 L474.92,67.28 L475.70,67.47 L476.48,67.66 L477.26,67.85 L478.04,68.04 L478.82,68.23 L479.60,68.43 L480.38,68.62 L481.16,68.82 L481.94,69.02 L482.72,69.23 L483.50,69.43 L484.28,69.64 L485.06,69.85 L485.84,70.06 L486.62,70.27 L487.40,70.49 L488.18,70.71 L488.96,70.93 L489.74,71.15 L490.52,71.37 L491.30,71.60 L492.08,71.83 L492.86,72.06 L493.64,72.29 L494.42,72.53 L495.20,72.77 L495.98,73.01 L496.76,73.26 L497.54,73.50 L498.32,73.75 L499.10,74.00 L499.88,74.26 L500.64,74.51 L501.40,74.76 L502.16,75.02 L502.92,75.28 L503.68,75.54 L504.44,75.80 L505.20,76.07 L505.96,76.34 L506.72,76.61 L507.48,76.89 L508.24,77.16 L509.00,77.45 L509.76,77.73 L510.52,78.02 L511.28,78.31 L512.04,78.60 L512.80,78.90 L513.56,79.20 L514.32,79.50 L515.08,79.81 L515.84,80.12 L516.58,80.43 L517.32,80.74 L518.06,81.05 L518.80,81.36 L519.54,81.68 L520.28,82.01 L521.02,82.33 L521.76,82.66 L522.50,83.00 L523.24,83.33 L523.98,83.67 L524.72,84.02 L525.46,84.37 L526.20,84.72 L526.94,85.07 L527.66,85.43 L528.38,85.78 L529.10,86.14 L529.82,86.50 L530.54,86.87 L531.26,87.24 L531.98,87.61 L532.70,87.99 L533.42,88.37 L534.14,88.76 L534.86,89.15 L535.58,89.55 L536.28,89.94 L536.98,90.33 L537.68,90.73 L538.38,91.13 L539.08,91.54 L539.78,91.95 L540.48,92.37 L541.18,92.79 L541.88,93.21 L542.58,93.64 L543.26,94.07 L543.94,94.49 L544.62,94.93 L545.30,95.36 L545.98,95.81 L546.66,96.25 L547.34,96.70 L548.02,97.16 L548.70,97.62 L549.36,98.08 L550.02,98.54 L550.68,99.00 L551.34,99.47 L552.00,99.94 L552.66,100.42 L553.32,100.91 L553.98,101.40 L554.62,101.88 L555.26,102.37 L555.90,102.86 L556.54,103.35 L557.18,103.86 L557.82,104.36 L558.46,104.88 L559.10,105.40 L559.72,105.90 L560.34,106.42 L560.96,106.94 L561.58,107.46 L562.20,108.00 L562.82,108.53 L563.44,109.08 L564.04,109.61 L564.64,110.14 L565.24,110.69 L565.84,111.23 L566.44,111.79 L567.04,112.35 L567.64,112.92 L568.22,113.47 L568.80,114.03 L569.38,114.59 L569.96,115.16 L570.54,115.74 L571.12,116.33 L571.70,116.92 L572.26,117.49 L572.82,118.07 L573.38,118.66 L573.94,119.25 L574.50,119.85 L575.06,120.46 L575.60,121.05 L576.14,121.65 L576.68,122.25 L577.22,122.86 L577.76,123.48 L578.30,124.10 L578.84,124.73 L579.36,125.34 L579.88,125.95 L580.40,126.58 L580.92,127.21 L581.44,127.84 L581.96,128.49 L582.48,129.14 L582.98,129.77 L583.48,130.40 L583.98,131.05 L584.48,131.70 L584.98,132.35 L585.48,133.02 L585.96,133.66 L586.44,134.31 L586.92,134.96 L587.40,135.62 L587.88,136.29 L588.36,136.96 L588.84,137.65 L589.30,138.30 L589.76,138.97 L590.22,139.64 L590.68,140.32 L591.14,141.00 L591.60,141.69 L592.06,142.39 L592.50,143.06 L592.94,143.74 L593.38,144.43 L593.82,145.12 L594.26,145.82 L594.70,146.52 L595.14,147.24 L595.56,147.92 L595.98,148.61 L596.40,149.31 L596.82,150.02 L597.24,150.73 L597.66,151.45 L598.08,152.17 L598.48,152.87 L598.88,153.57 L599.28,154.27 L599.68,154.99 L600.08,155.71 L600.48,156.44 L600.88,157.17 L601.28,157.91 L601.66,158.62 L602.04,159.34 L602.42,160.06 L602.80,160.78 L603.18,161.52 L603.56,162.26 L603.94,163.01 L604.32,163.76 L604.68,164.48 L605.04,165.21 L605.40,165.94 L605.76,166.68 L606.12,167.42 L606.48,168.17 L606.84,168.93 L607.20,169.69 L607.54,170.42 L607.88,171.15 L608.22,171.89 L608.56,172.64 L608.90,173.39 L609.24,174.15 L609.58,174.91 L609.92,175.68 L610.26,176.46 L610.58,177.19 L610.90,177.93 L611.22,178.68 L611.54,179.44 L611.86,180.20 L612.18,180.96 L612.50,181.74 L612.82,182.52 L613.14,183.30 L613.44,184.04 L613.74,184.79 L614.04,185.54 L614.34,186.30 L614.64,187.07 L614.94,187.84 L615.24,188.62 L615.54,189.40" stroke="#C00000" stroke-width="7.8" stroke-linecap="round" stroke-dasharray="15.4 17.1" stroke-dashoffset="29.10"/>
<path d="M615.54,189.40 L615.84,190.19 L616.14,190.98 L616.44,191.78 L616.72,192.54 L617.00,193.30 L617.28,194.06 L617.56,194.84 L617.84,195.61 L618.12,196.39 L618.40,197.18 L618.68,197.98 L618.96,198.78 L619.24,199.59 L619.52,200.40 L619.78,201.16 L620.04,201.93 L620.30,202.70 L620.56,203.48 L620.82,204.26 L621.08,205.05 L621.34,205.84 L621.60,206.64 L621.86,207.45 L622.12,208.26 L622.38,209.08 L622.64,209.91 L622.88,210.67 L623.12,211.45 L623.36,212.23 L623.60,213.01 L623.84,213.80 L624.08,214.59 L624.32,215.39 L624.56,216.20 L624.80,217.01 L625.04,217.83 L625.28,218.65 L625.52,219.48 L625.76,220.32 L625.98,221.09 L626.20,221.87 L626.42,222.65 L626.64,223.44 L626.86,224.23 L627.08,225.03 L627.30,225.83 L627.52,226.64 L627.74,227.46 L627.96,228.28 L628.18,229.11 L628.40,229.94 L628.62,230.78 L628.84,231.63 L629.06,232.48 L629.26,233.26 L629.46,234.04 L629.66,234.83 L629.86,235.63 L630.06,236.43 L630.26,237.23 L630.46,238.04 L630.66,238.86 L630.86,239.68 L631.06,240.51 L631.26,241.34 L631.46,242.18 L631.66,243.03 L631.86,243.88 L632.06,244.73 L632.26,245.60 L632.44,246.38 L632.62,247.17 L632.80,247.96 L632.98,248.76 L633.16,249.56 L633.34,250.37 L633.52,251.18 L633.70,252.00 L633.88,252.82 L634.06,253.65 L634.24,254.49 L634.42,255.33 L634.60,256.17 L634.78,257.03 L634.96,257.88 L635.14,258.75 L635.32,259.62 L635.50,260.49 L635.68,261.37 L635.84,262.16 L636.00,262.96 L636.16,263.76 L636.32,264.56 L636.48,265.37 L636.64,266.18 L636.80,267.00 L636.96,267.83 L637.12,268.66 L637.28,269.49 L637.44,270.34 L637.60,271.18 L637.76,272.03 L637.92,272.89 L638.08,273.76 L638.24,274.63 L638.40,275.50 L638.56,276.38 L638.72,277.27 L638.88,278.16 L639.04,279.06 L639.18,279.85 L639.32,280.65 L639.46,281.45 L639.60,282.26 L639.74,283.07 L639.88,283.89 L640.02,284.71 L640.16,285.54 L640.30,286.37 L640.44,287.21 L640.58,288.05 L640.72,288.90 L640.86,289.75 L641.00,290.61 L641.14,291.47 L641.28,292.34 L641.42,293.22 L641.56,294.10 L641.70,294.99 L641.84,295.88 L641.98,296.78 L642.12,297.69 L642.26,298.60 L642.40,299.52 L642.52,300.31 L642.64,301.11 L642.76,301.91 L642.88,302.71 L643.00,303.52 L643.12,304.34 L643.24,305.16 L643.36,305.98 L643.48,306.82 L643.60,307.65 L643.72,308.49 L643.84,309.34 L643.96,310.19 L644.08,311.04 L644.20,311.91 L644.32,312.77 L644.44,313.65 L644.56,314.53 L644.68,315.41 L644.80,316.30 L644.92,317.19 L645.04,318.10 L645.16,319.00 L645.28,319.92 L645.40,320.84 L645.52,321.76 L645.64,322.69 L645.76,323.63 L645.88,324.57 L646.00,325.52 L646.10,326.32 L646.20,327.12 L646.30,327.93 L646.40,328.74 L646.50,329.56 L646.60,330.38 L646.70,331.20 L646.80,332.03 L646.90,332.87 L647.00,333.71 L647.10,334.55 L647.20,335.40 L647.30,336.26 L647.40,337.12 L647.50,337.98 L647.60,338.85 L647.70,339.73 L647.80,340.61 L647.90,341.50 L648.00,342.39 L648.10,343.29 L648.20,344.19 L648.30,345.10 L648.40,346.01 L648.50,346.94 L648.60,347.86 L648.70,348.80 L648.80,349.73 L648.90,350.68 L649.00,351.63 L649.10,352.59 L649.20,353.55 L649.30,354.52 L649.40,355.50 L649.50,356.48 L649.60,357.47 L649.68,358.27 L649.76,359.07 L649.84,359.88 L649.92,360.69 L650.00,361.50 L650.08,362.32 L650.16,363.14 L650.24,363.97 L650.32,364.80 L650.40,365.64 L650.48,366.48 L650.56,367.33 L650.64,368.18 L650.72,369.04 L650.80,369.90 L650.88,370.77 L650.96,371.64 L651.04,372.52 L651.12,373.40 L651.20,374.28 L651.28,375.18 L651.36,376.07 L651.44,376.98 L651.52,377.88 L651.60,378.80 L651.68,379.72 L651.76,380.64 L651.84,381.57 L651.92,382.51 L652.00,383.45 L652.08,384.40 L652.16,385.35 L652.24,386.31 L652.32,387.27 L652.40,388.24 L652.48,389.22 L652.56,390.20 L652.64,391.19 L652.72,392.19 L652.80,393.19 L652.88,394.20 L652.96,395.21 L653.04,396.23 L653.12,397.26 L653.20,398.29 L653.28,399.34 L653.36,400.38 L653.44,401.44 L653.52,402.50 L653.58,403.30 L653.64,404.10 L653.70,404.91 L653.76,405.72 L653.82,406.54 L653.88,407.36 L653.94,408.18 L654.00,409.01 L654.06,409.84 L654.12,410.68 L654.18,411.52 L654.24,412.36 L654.30,413.21 L654.36,414.07 L654.42,414.92 L654.48,415.78 L654.54,416.65 L654.60,417.52 L654.66,418.39 L654.72,419.27 L654.78,420.16 L654.84,421.04 L654.90,421.93 L654.96,422.83 L655.02,423.73 L655.08,424.64 L655.14,425.55 L655.20,426.46 L655.26,427.38 L655.32,428.30 L655.38,429.23 L655.44,430.16 L655.50,431.10 L655.56,432.04 L655.62,432.98 L655.68,433.93 L655.74,434.89 L655.80,435.85 L655.86,436.81 L655.92,437.78 L655.98,438.75 L656.04,439.73 L656.10,440.71 L656.16,441.70 L656.22,442.69 L656.28,443.68 L656.34,444.68 L656.40,445.69 L656.46,446.69 L656.52,447.71 L656.58,448.72 L656.64,449.74 L656.70,450.77 L656.76,451.80 L656.82,452.83 L656.88,453.87 L656.94,454.91 L657.00,455.96 L657.06,457.01 L657.12,458.06 L657.18,459.12 L657.24,460.18 L657.30,461.24 L657.36,462.31 L657.42,463.38 L657.48,464.45 L657.54,465.53 L657.60,466.60 L657.66,467.69 L657.72,468.77 L657.78,469.86 L657.84,470.94 L657.90,472.03 L657.96,473.13 L658.02,474.22 L658.08,475.31 L658.14,476.41 L658.20,477.50 L658.26,478.60 L658.32,479.69 L658.38,480.79 L658.44,481.88 L658.50,482.98 L658.56,484.07 L658.62,485.16 L658.68,486.25 L658.74,487.33 L658.80,488.41 L658.86,489.49 L658.92,490.56 L658.98,491.63 L659.04,492.69 L659.10,493.75 L659.16,494.80 L659.22,495.84 L659.28,496.87 L659.34,497.90 L659.40,498.91 L659.46,499.91 L659.52,500.90 L659.58,501.88 L659.64,502.84 L659.70,503.78 L659.76,504.71 L659.82,505.61 L659.88,506.50 L659.94,507.35 L660.00,508.18 L660.08,509.24 L660.16,510.22 L660.24,511.10 L660.50,512.50 L661.06,512.06 L661.24,511.19 L661.36,510.29 L661.46,509.35 L661.54,508.47 L661.62,507.50 L661.70,506.44 L661.76,505.58 L661.82,504.68 L661.88,503.74 L661.94,502.76 L662.00,501.74 L662.06,500.70 L662.12,499.62 L662.18,498.52 L662.24,497.40 L662.30,496.25 L662.36,495.08 L662.42,493.90 L662.48,492.71 L662.52,491.90 L662.56,491.09 L662.60,490.28 L662.64,489.46 L662.68,488.64 L662.72,487.81 L662.76,486.99 L662.80,486.16 L662.84,485.32 L662.88,484.49 L662.92,483.66 L662.96,482.82 L663.00,481.98 L663.04,481.15 L663.08,480.31 L663.12,479.47 L663.16,478.64 L663.20,477.80 L663.24,476.96 L663.28,476.13 L663.32,475.30 L663.36,474.46 L663.40,473.63 L663.44,472.80 L663.48,471.98 L663.52,471.15 L663.56,470.33 L663.60,469.51 L663.64,468.69 L663.68,467.87 L663.72,467.06 L663.76,466.25 L663.80,465.44 L663.84,464.63 L663.88,463.83 L663.92,463.03 L663.98,461.83 L664.04,460.64 L664.10,459.46 L664.16,458.29 L664.22,457.12 L664.28,455.96 L664.34,454.80 L664.40,453.65 L664.46,452.51 L664.52,451.38 L664.58,450.26 L664.64,449.14 L664.70,448.03 L664.76,446.93 L664.82,445.83 L664.88,444.74 L664.94,443.66 L665.00,442.59 L665.06,441.52 L665.12,440.46 L665.18,439.41 L665.24,438.37 L665.30,437.33 L665.36,436.30 L665.42,435.27 L665.48,434.26 L665.54,433.25 L665.60,432.25 L665.66,431.25 L665.72,430.26 L665.78,429.28 L665.84,428.31 L665.90,427.34 L665.96,426.37 L666.02,425.42 L666.08,424.47 L666.14,423.53 L666.20,422.59 L666.26,421.66 L666.32,420.74 L666.38,419.82 L666.44,418.90 L666.50,418.00 L666.56,417.10 L666.62,416.20 L666.68,415.32 L666.74,414.43 L666.80,413.56 L666.86,412.68 L666.92,411.82 L666.98,410.96 L667.04,410.10 L667.10,409.25 L667.16,408.41 L667.22,407.57 L667.28,406.74 L667.34,405.91 L667.40,405.08 L667.46,404.26 L667.52,403.45 L667.58,402.64 L667.64,401.84 L667.70,401.04 L667.78,399.98 L667.86,398.93 L667.94,397.89 L668.02,396.86 L668.10,395.83 L668.18,394.81 L668.26,393.80 L668.34,392.80 L668.42,391.81 L668.50,390.82 L668.58,389.84 L668.66,388.87 L668.74,387.90 L668.82,386.94 L668.90,385.99 L668.98,385.05 L669.06,384.11 L669.14,383.18 L669.22,382.25 L669.30,381.33 L669.38,380.42 L669.46,379.52 L669.54,378.62 L669.62,377.72 L669.70,376.84 L669.78,375.96 L669.86,375.08 L669.94,374.21 L670.02,373.35 L670.10,372.49 L670.18,371.64 L670.26,370.79 L670.34,369.95 L670.42,369.11 L670.50,368.28 L670.58,367.46 L670.66,366.64 L670.74,365.82 L670.82,365.01 L670.90,364.21 L670.98,363.41 L671.08,362.41 L671.18,361.43 L671.28,360.45 L671.38,359.48 L671.48,358.52 L671.58,357.56 L671.68,356.61 L671.78,355.67 L671.88,354.73 L671.98,353.80 L672.08,352.88 L672.18,351.96 L672.28,351.05 L672.38,350.15 L672.48,349.25 L672.58,348.36 L672.68,347.48 L672.78,346.60 L672.88,345.73 L672.98,344.86 L673.08,344.00 L673.18,343.14 L673.28,342.29 L673.38,341.45 L673.48,340.61 L673.58,339.78 L673.68,338.95 L673.78,338.13 L673.88,337.31 L673.98,336.50 L674.08,335.69 L674.18,334.89 L674.28,334.09 L674.40,333.14 L674.52,332.19 L674.64,331.26 L674.76,330.33 L674.88,329.40 L675.00,328.49 L675.12,327.58 L675.24,326.67 L675.36,325.78 L675.48,324.89 L675.60,324.00 L675.72,323.12 L675.84,322.25 L675.96,321.38 L676.08,320.52 L676.20,319.66 L676.32,318.81 L676.44,317.97 L676.56,317.13 L676.68,316.30 L676.80,315.47 L676.92,314.65 L677.04,313.83 L677.16,313.02 L677.28,312.21 L677.40,311.41 L677.52,310.61 L677.64,309.82 L677.78,308.90 L677.92,307.99 L678.06,307.09 L678.20,306.19 L678.34,305.30 L678.48,304.41 L678.62,303.53 L678.76,302.66 L678.90,301.79 L679.04,300.93 L679.18,300.07 L679.32,299.22 L679.46,298.38 L679.60,297.54 L679.74,296.71 L679.88,295.88 L680.02,295.06 L680.16,294.24 L680.30,293.43 L680.44,292.62 L680.58,291.82 L680.72,291.02 L680.86,290.23 L681.02,289.33 L681.18,288.44 L681.34,287.56 L681.50,286.68 L681.66,285.81 L681.82,284.94 L681.98,284.08 L682.14,283.22 L682.30,282.37 L682.46,281.53 L682.62,280.69 L682.78,279.86 L682.94,279.03 L683.10,278.21 L683.26,277.40 L683.42,276.59 L683.58,275.78 L683.74,274.98 L683.90,274.19 L684.06,273.40 L684.22,272.61 L684.40,271.74 L684.58,270.87 L684.76,270.00 L684.94,269.14 L685.12,268.29 L685.30,267.45 L685.48,266.61 L685.66,265.77 L685.84,264.94 L686.02,264.12 L686.20,263.30 L686.38,262.49 L686.56,261.68 L686.74,260.88 L686.92,260.09 L687.10,259.30 L687.28,258.51 L687.46,257.73 L687.66,256.87 L687.86,256.02 L688.06,255.17 L688.26,254.32 L688.46,253.49 L688.66,252.66 L688.86,251.83 L689.06,251.01 L689.26,250.20 L689.46,249.39 L689.66,248.59 L689.86,247.79 L690.06,247.00 L690.26,246.21 L690.46,245.43 L690.66,244.66 L690.88,243.81 L691.10,242.97 L691.32,242.13 L691.54,241.30 L691.76,240.48 L691.98,239.66 L692.20,238.85 L692.42,238.05 L692.64,237.25 L692.86,236.45 L693.08,235.66 L693.30,234.88 L693.52,234.10 L693.74,233.33 L693.98,232.49 L694.22,231.66 L694.46,230.84 L694.70,230.02 L694.94,229.21 L695.18,228.40 L695.42,227.60 L695.66,226.80 L695.90,226.02 L696.14,225.23 L696.38,224.45 L696.62,223.68 L696.86,222.91 L697.12,222.09 L697.38,221.27 L697.64,220.46 L697.90,219.65 L698.16,218.85 L698.42,218.06 L698.68,217.27 L698.94,216.49 L699.20,215.71 L699.46,214.94" stroke="#C00000" stroke-width="7.8" stroke-linecap="round" stroke-dasharray="15.4 17.1" stroke-dashoffset="11.69"/>
<path d="M699.46,214.94 L699.72,214.17 L699.98,213.41 L700.26,212.60 L700.54,211.79 L700.82,210.99 L701.10,210.20 L701.38,209.41 L701.66,208.63 L701.94,207.85 L702.22,207.08 L702.50,206.32 L702.78,205.56 L703.06,204.81 L703.36,204.01 L703.66,203.21 L703.96,202.42 L704.26,201.64 L704.56,200.86 L704.86,200.09 L705.16,199.33 L705.46,198.57 L705.76,197.82 L706.06,197.07 L706.38,196.28 L706.70,195.50 L707.02,194.72 L707.34,193.95 L707.66,193.19 L707.98,192.43 L708.30,191.68 L708.62,190.93 L708.94,190.19 L709.26,189.45 L709.60,188.68 L709.94,187.91 L710.28,187.15 L710.62,186.39 L710.96,185.64 L711.30,184.90 L711.64,184.16 L711.98,183.43 L712.32,182.70 L712.68,181.94 L713.04,181.18 L713.40,180.43 L713.76,179.69 L714.12,178.95 L714.48,178.22 L714.84,177.50 L715.20,176.78 L715.58,176.03 L715.96,175.28 L716.34,174.54 L716.72,173.81 L717.10,173.08 L717.48,172.36 L717.86,171.64 L718.24,170.94 L718.64,170.20 L719.04,169.46 L719.44,168.74 L719.84,168.02 L720.24,167.30 L720.64,166.60 L721.04,165.90 L721.44,165.20 L721.86,164.48 L722.28,163.76 L722.70,163.05 L723.12,162.34 L723.54,161.65 L723.96,160.96 L724.38,160.27 L724.82,159.56 L725.26,158.85 L725.70,158.15 L726.14,157.46 L726.58,156.78 L727.02,156.10 L727.46,155.42 L727.92,154.73 L728.38,154.03 L728.84,153.35 L729.30,152.67 L729.76,152.00 L730.22,151.33 L730.68,150.68 L731.16,149.99 L731.64,149.32 L732.12,148.65 L732.60,147.99 L733.08,147.33 L733.56,146.68 L734.04,146.04 L734.54,145.38 L735.04,144.72 L735.54,144.07 L736.04,143.42 L736.54,142.79 L737.04,142.15 L737.54,141.53 L738.06,140.88 L738.58,140.25 L739.10,139.61 L739.62,138.99 L740.14,138.37 L740.66,137.76 L741.20,137.13 L741.74,136.50 L742.28,135.88 L742.82,135.27 L743.36,134.67 L743.90,134.07 L744.44,133.48 L745.00,132.87 L745.56,132.26 L746.12,131.67 L746.68,131.08 L747.24,130.49 L747.80,129.92 L748.36,129.34 L748.94,128.76 L749.52,128.18 L750.10,127.60 L750.68,127.03 L751.26,126.47 L751.84,125.91 L752.44,125.34 L753.04,124.78 L753.64,124.22 L754.24,123.67 L754.84,123.13 L755.44,122.58 L756.04,122.05 L756.66,121.50 L757.28,120.96 L757.90,120.43 L758.52,119.90 L759.14,119.38 L759.76,118.86 L760.38,118.35 L761.00,117.84 L761.64,117.32 L762.28,116.81 L762.92,116.30 L763.56,115.80 L764.20,115.31 L764.84,114.82 L765.48,114.33 L766.14,113.84 L766.80,113.35 L767.46,112.86 L768.12,112.39 L768.78,111.91 L769.44,111.44 L770.10,110.98 L770.76,110.52 L771.42,110.07 L772.10,109.61 L772.78,109.15 L773.46,108.70 L774.14,108.25 L774.82,107.81 L775.50,107.38 L776.18,106.94 L776.86,106.52 L777.54,106.09 L778.24,105.66 L778.94,105.24 L779.64,104.82 L780.34,104.40 L781.04,103.99 L781.74,103.58 L782.44,103.18 L783.14,102.78 L783.84,102.39 L784.54,102.00 L785.26,101.60 L785.98,101.21 L786.70,100.82 L787.42,100.44 L788.14,100.06 L788.86,99.69 L789.58,99.31 L790.30,98.95 L791.02,98.59 L791.74,98.23 L792.46,97.87 L793.18,97.52 L793.92,97.16 L794.66,96.81 L795.40,96.46 L796.14,96.12 L796.88,95.78 L797.62,95.44 L798.36,95.11 L799.10,94.78 L799.84,94.45 L800.58,94.13 L801.32,93.81 L802.06,93.49 L802.80,93.18 L803.54,92.87 L804.28,92.56 L805.04,92.25 L805.80,91.94 L806.56,91.64 L807.32,91.34 L808.08,91.04 L808.84,90.75 L809.60,90.46 L810.36,90.17 L811.12,89.88 L811.88,89.60 L812.64,89.32 L813.40,89.05 L814.16,88.78 L814.92,88.51 L815.68,88.24 L816.44,87.97 L817.20,87.71 L817.96,87.45 L818.72,87.20 L819.48,86.95 L820.24,86.70 L821.02,86.44 L821.80,86.19 L822.58,85.94 L823.36,85.69 L824.14,85.45 L824.92,85.21 L825.70,84.97 L826.48,84.73 L827.26,84.50 L828.04,84.27 L828.82,84.04 L829.60,83.82 L830.38,83.59 L831.16,83.37 L831.94,83.15 L832.72,82.93 L833.50,82.72 L834.28,82.51 L835.06,82.30 L835.84,82.09 L836.62,81.88 L837.40,81.68 L838.18,81.48 L838.96,81.28 L839.74,81.08 L840.52,80.88 L841.30,80.69 L842.08,80.50 L842.86,80.31 L843.64,80.12 L844.42,79.93 L845.20,79.75 L845.98,79.57 L846.76,79.39 L847.54,79.21 L848.34,79.03 L849.14,78.85 L849.94,78.67 L850.74,78.49 L851.54,78.32 L852.34,78.15 L853.14,77.98 L853.94,77.81 L854.74,77.64 L855.54,77.48 L856.34,77.31 L857.14,77.15 L857.94,76.99 L858.74,76.83 L859.54,76.67 L860.34,76.52 L861.14,76.36 L861.94,76.21 L862.74,76.06 L863.54,75.91 L864.34,75.76 L865.14,75.62 L865.94,75.47 L866.74,75.33 L867.54,75.18 L868.34,75.04 L869.14,74.90 L869.94,74.77 L870.74,74.63 L871.54,74.49 L872.34,74.36 L873.14,74.23 L873.94,74.09 L874.74,73.96 L875.54,73.83 L876.34,73.71 L877.14,73.58 L877.94,73.45 L878.74,73.33 L879.54,73.21 L880.34,73.09 L881.14,72.97 L881.94,72.85 L882.74,72.73 L883.54,72.61 L884.34,72.49 L885.14,72.38 L885.94,72.27 L886.74,72.15 L887.54,72.04 L888.34,71.93 L889.14,71.82 L889.94,71.71 L890.74,71.61 L891.54,71.50 L892.34,71.39 L893.14,71.29 L893.94,71.19 L894.74,71.08 L895.54,70.98 L896.34,70.88 L897.14,70.78 L897.94,70.68 L898.74,70.59 L899.54,70.49 L900.34,70.39 L901.14,70.30 L901.94,70.20 L902.74,70.11 L903.54,70.02 L904.34,69.93 L905.14,69.84 L905.94,69.75 L906.74,69.66 L907.54,69.57 L908.34,69.48 L909.14,69.40 L909.94,69.31 L910.74,69.23 L911.54,69.14 L912.34,69.06 L913.14,68.98 L913.94,68.90 L914.74,68.81 L915.54,68.73 L916.34,68.66 L917.14,68.58 L917.94,68.50 L918.74,68.42 L919.54,68.35 L920.34,68.27 L921.14,68.19 L921.94,68.12 L922.74,68.05 L923.54,67.97 L924.34,67.90 L925.14,67.83 L925.94,67.76 L926.74,67.69 L927.54,67.62 L928.34,67.55 L929.14,67.48 L929.94,67.42 L930.74,67.35 L931.54,67.28 L932.34,67.22 L933.14,67.15 L933.94,67.09 L934.74,67.02 L935.54,66.96 L936.34,66.90 L937.14,66.84 L937.94,66.77 L938.74,66.71 L939.54,66.65 L940.34,66.59 L941.14,66.53 L941.94,66.48 L942.74,66.42 L943.54,66.36 L944.34,66.30 L945.14,66.25 L945.94,66.19 L946.74,66.14 L947.54,66.08 L948.34,66.03 L949.14,65.97 L949.94,65.92 L950.74,65.87 L951.54,65.81 L952.34,65.76 L953.14,65.71 L953.94,65.66 L954.74,65.61 L955.54,65.56 L956.34,65.51 L957.14,65.46 L957.94,65.41 L958.74,65.37 L959.54,65.32 L960.34,65.27 L961.14,65.23 L961.94,65.18 L962.74,65.13 L963.54,65.09 L964.34,65.05 L965.14,65.00 L965.94,64.96 L966.74,64.91 L967.54,64.87 L968.34,64.83 L969.14,64.79 L969.94,64.75 L970.74,64.70 L971.54,64.66 L972.34,64.62 L973.14,64.58 L973.94,64.54 L974.74,64.50 L975.54,64.47 L976.34,64.43 L977.14,64.39 L977.94,64.35 L978.74,64.31 L979.54,64.28 L980.34,64.24 L981.14,64.21 L981.94,64.17 L982.74,64.14 L983.54,64.10 L984.34,64.07 L985.14,64.03 L985.94,64.00 L986.74,63.96 L987.54,63.93 L988.34,63.90 L989.14,63.87 L989.94,63.83 L990.74,63.80 L991.54,63.77 L992.34,63.74 L993.14,63.71 L993.94,63.68 L994.74,63.65 L995.54,63.62 L996.34,63.59 L997.14,63.56 L997.94,63.53 L998.74,63.51 L999.54,63.48 L1000.34,63.45 L1001.14,63.44 L1001.94,63.42 L1002.74,63.41 L1003.54,63.39 L1004.34,63.38 L1005.14,63.36 L1005.94,63.35 L1006.74,63.34 L1007.54,63.32 L1008.34,63.31 L1009.14,63.30 L1009.94,63.28 L1010.74,63.27 L1011.54,63.26 L1012.34,63.25 L1013.14,63.24 L1013.94,63.23 L1014.74,63.22 L1015.54,63.21 L1016.34,63.20 L1017.14,63.19 L1017.94,63.18 L1018.74,63.17 L1019.54,63.16 L1020.34,63.15 L1021.14,63.14 L1021.94,63.13 L1022.74,63.12 L1023.54,63.12 L1024.34,63.11 L1025.14,63.10 L1025.94,63.09 L1026.74,63.09 L1027.54,63.08 L1028.34,63.07 L1029.14,63.07 L1029.94,63.06 L1030.74,63.06 L1031.54,63.05 L1032.34,63.05 L1033.14,63.04 L1033.94,63.04 L1034.74,63.03 L1035.54,63.03 L1036.34,63.03 L1037.14,63.02 L1037.94,63.02 L1038.74,63.02 L1039.54,63.01 L1040.34,63.01 L1041.14,63.01 L1041.94,63.01 L1042.74,63.02 L1043.54,63.03 L1044.34,63.05 L1045.14,63.06 L1045.94,63.08 L1046.74,63.09 L1047.54,63.10 L1048.34,63.12 L1049.14,63.13 L1049.94,63.15 L1050.74,63.17 L1051.54,63.18 L1052.34,63.20 L1053.14,63.21 L1053.94,63.23 L1054.74,63.25 L1055.54,63.26 L1056.34,63.28 L1057.14,63.30 L1057.94,63.32 L1058.74,63.33 L1059.54,63.35 L1060.34,63.37 L1061.14,63.39 L1061.94,63.41 L1062.74,63.43 L1063.54,63.44 L1064.34,63.46 L1065.14,63.48 L1065.94,63.50 L1066.74,63.52 L1067.54,63.54 L1068.34,63.56 L1069.14,63.58 L1069.94,63.60 L1070.74,63.62 L1071.54,63.65 L1072.34,63.67 L1073.14,63.69 L1073.94,63.71 L1074.74,63.73 L1075.54,63.74 L1076.34,63.73 L1077.14,63.73 L1077.94,63.72 L1078.74,63.72 L1079.54,63.71 L1080.34,63.71 L1081.14,63.71 L1081.94,63.70 L1082.74,63.70 L1083.54,63.70 L1084.34,63.69 L1085.14,63.69 L1085.94,63.69 L1086.74,63.69 L1087.54,63.68 L1088.34,63.68 L1089.14,63.68 L1089.94,63.68 L1090.74,63.68 L1091.54,63.68 L1092.34,63.68 L1093.14,63.67 L1093.94,63.67 L1094.74,63.67 L1095.54,63.67 L1096.34,63.67 L1097.14,63.67 L1097.94,63.67 L1098.74,63.67 L1099.54,63.67 L1100.34,63.67 L1101.14,63.67 L1101.94,63.68 L1102.74,63.68 L1103.54,63.68 L1104.34,63.68 L1105.14,63.68 L1105.94,63.68 L1106.74,63.68 L1107.54,63.68 L1108.34,63.64 L1109.14,63.59 L1109.94,63.54 L1110.74,63.50 L1111.54,63.45 L1112.34,63.40 L1113.14,63.36 L1113.94,63.31 L1114.74,63.27 L1115.54,63.22 L1116.34,63.17 L1117.14,63.13 L1117.94,63.08 L1118.74,63.04 L1119.54,62.99 L1120.34,62.95 L1121.14,62.90 L1121.94,62.86 L1122.74,62.81 L1123.54,62.77 L1124.34,62.73 L1125.14,62.68 L1125.94,62.64 L1126.74,62.60 L1127.54,62.55 L1128.34,62.51 L1129.14,62.46 L1129.94,62.42 L1130.74,62.38 L1131.54,62.34 L1132.34,62.29 L1133.14,62.25 L1133.94,62.21 L1134.74,62.17 L1135.54,62.12 L1136.34,62.08 L1137.14,62.04 L1137.94,62.00 L1138.74,61.96 L1139.54,61.91 L1140.34,61.88 L1141.14,61.84 L1141.94,61.80 L1142.74,61.77 L1143.54,61.73 L1144.34,61.70 L1145.14,61.66 L1145.94,61.63 L1146.74,61.59 L1147.54,61.56 L1148.34,61.52 L1149.14,61.49 L1149.94,61.45 L1150.74,61.42 L1151.54,61.38 L1152.34,61.35 L1153.14,61.31 L1153.94,61.28 L1154.74,61.25 L1155.54,61.21 L1156.34,61.18 L1157.14,61.14 L1157.94,61.11 L1158.74,61.08 L1159.54,61.04 L1160.34,61.01 L1161.14,60.98 L1161.94,60.95 L1162.74,60.91 L1163.54,60.88 L1164.34,60.85 L1165.14,60.82 L1165.94,60.78 L1166.74,60.75 L1167.54,60.72 L1168.34,60.69 L1169.14,60.66 L1169.50,60.67" stroke="#C00000" stroke-width="7.8" stroke-linecap="round" stroke-dasharray="15.4 17.1" stroke-dashoffset="21.72"/>
</g>
<path d="M136,597.6 V31.6 M1168.9,31.6 V597.6" stroke="#000" stroke-width="1.8" fill="none"/>
<path d="M135.1,31.6 H1169.8 M135.1,597.6 H1169.8" stroke="#000" stroke-width="1.5" fill="none"/>
<path d="M776.4,389.9 H871.2" stroke="#ED7D31" stroke-width="5.8"/>
<path d="M780.4,456.2 H862.2" stroke="#00B050" stroke-width="7.6" stroke-linecap="round" stroke-dasharray="25 32.6"/>
<path d="M780.3,523.3 H862.1" stroke="#C00000" stroke-width="7.4" stroke-linecap="round" stroke-dasharray="16.5 16.2"/>
<g font-size="29">
<text x="880" y="400.4" textLength="218" lengthAdjust="spacingAndGlyphs">Single-Element</text>
<text x="880" y="467.7" textLength="138" lengthAdjust="spacingAndGlyphs">1x2 Array</text>
<text x="880" y="533.4" textLength="138" lengthAdjust="spacingAndGlyphs">1x4 Array</text>
</g>
</svg>
</body></html>
